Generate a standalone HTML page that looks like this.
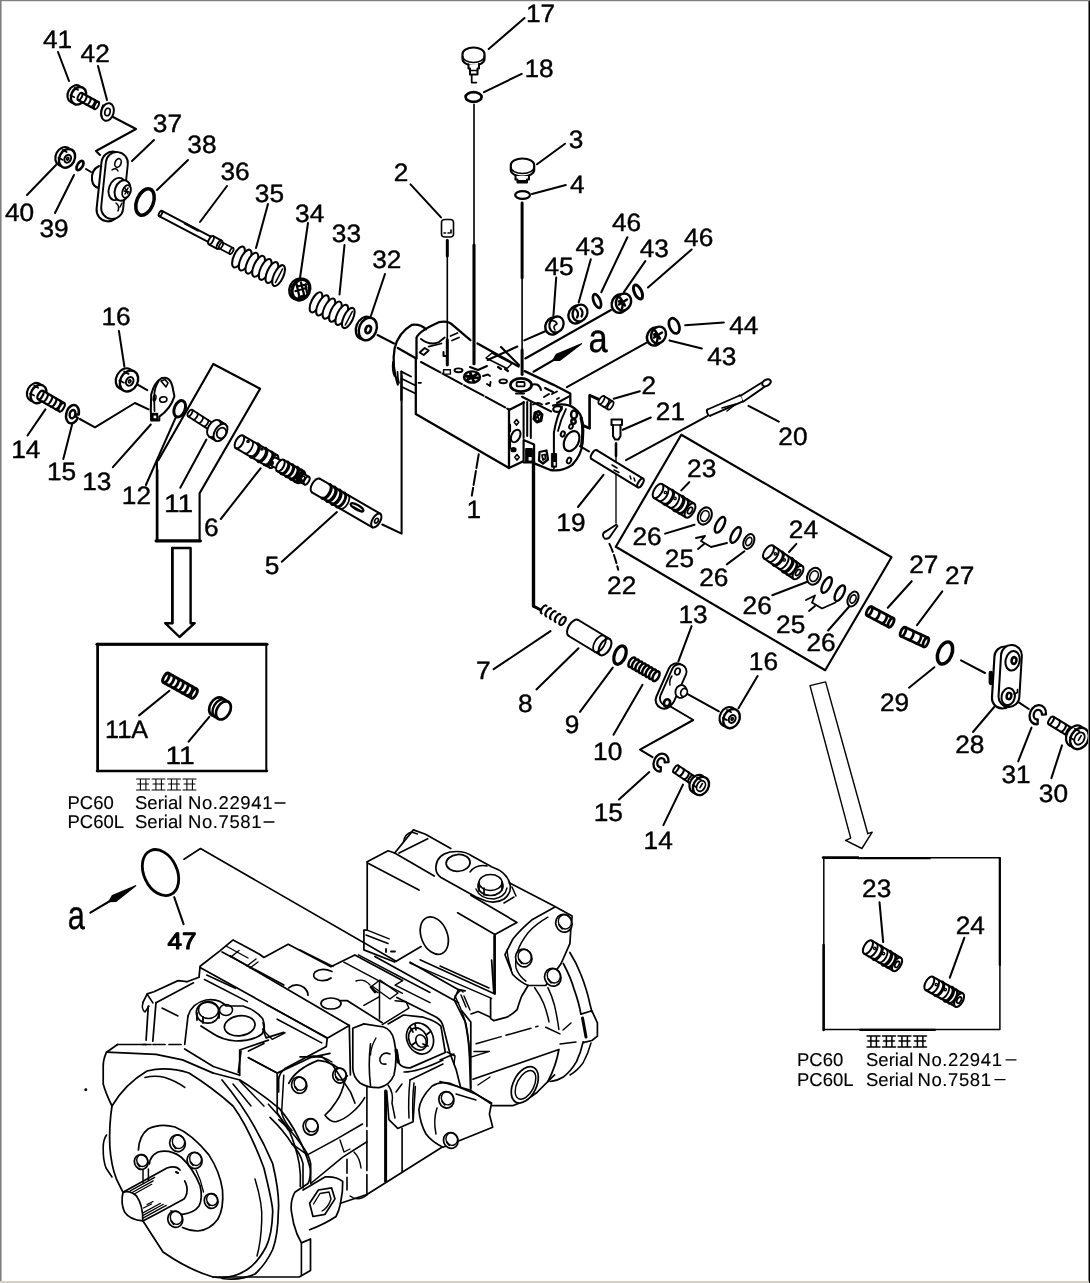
<!DOCTYPE html>
<html><head><meta charset="utf-8"><title>Parts diagram</title>
<style>
html,body{margin:0;padding:0;background:#fff;}
body{width:1090px;height:1283px;overflow:hidden;position:relative;font-family:"Liberation Sans",sans-serif;}
svg{position:absolute;left:0;top:0;display:block;filter:grayscale(1);}
svg text{font-family:"Liberation Sans",sans-serif;fill:#000;stroke:#000;stroke-width:0.4px;text-rendering:geometricPrecision;}
.bd{position:absolute;}
</style></head><body>
<svg width="1090" height="1283" viewBox="0 0 1090 1283" fill="none" stroke="#000" stroke-linecap="round" stroke-linejoin="round">
<rect x="0" y="0" width="1090" height="1283" fill="#fff" stroke="none"/>
<text x="42.9" y="47.5" font-size="25" textLength="29.2" lengthAdjust="spacingAndGlyphs">41</text>
<path d="M62.7 46.6L69.9 46.6" stroke-width="1.62" />
<text x="80.6" y="62.0" font-size="25" textLength="29.2" lengthAdjust="spacingAndGlyphs">42</text>
<text x="152.8" y="132.0" font-size="25" textLength="29.2" lengthAdjust="spacingAndGlyphs">37</text>
<text x="187.3" y="153.0" font-size="25" textLength="29.2" lengthAdjust="spacingAndGlyphs">38</text>
<text x="220.4" y="180.0" font-size="25" textLength="29.2" lengthAdjust="spacingAndGlyphs">36</text>
<text x="254.8" y="202.3" font-size="25" textLength="29.2" lengthAdjust="spacingAndGlyphs">35</text>
<text x="4.9" y="220.7" font-size="25" textLength="29.2" lengthAdjust="spacingAndGlyphs">40</text>
<text x="39.5" y="237.3" font-size="25" textLength="29.2" lengthAdjust="spacingAndGlyphs">39</text>
<text x="295.1" y="221.6" font-size="25" textLength="29.2" lengthAdjust="spacingAndGlyphs">34</text>
<text x="331.8" y="242.2" font-size="25" textLength="29.2" lengthAdjust="spacingAndGlyphs">33</text>
<text x="372.2" y="267.8" font-size="25" textLength="29.2" lengthAdjust="spacingAndGlyphs">32</text>
<text x="393.8" y="180.5" font-size="25" textLength="14.6" lengthAdjust="spacingAndGlyphs">2</text>
<text x="526.0" y="22.0" font-size="25" textLength="29.2" lengthAdjust="spacingAndGlyphs">17</text>
<path d="M531.2 21.1L538.4 21.1" stroke-width="1.62" />
<text x="524.4" y="77.0" font-size="25" textLength="29.2" lengthAdjust="spacingAndGlyphs">18</text>
<path d="M529.6 76.1L536.8 76.1" stroke-width="1.62" />
<text x="568.8" y="148.0" font-size="25" textLength="14.6" lengthAdjust="spacingAndGlyphs">3</text>
<text x="570.1" y="193.0" font-size="25" textLength="14.6" lengthAdjust="spacingAndGlyphs">4</text>
<text x="612.0" y="231.0" font-size="25" textLength="29.2" lengthAdjust="spacingAndGlyphs">46</text>
<text x="575.4" y="254.5" font-size="25" textLength="29.2" lengthAdjust="spacingAndGlyphs">43</text>
<text x="544.4" y="275.2" font-size="25" textLength="29.2" lengthAdjust="spacingAndGlyphs">45</text>
<text x="639.7" y="257.3" font-size="25" textLength="29.2" lengthAdjust="spacingAndGlyphs">43</text>
<text x="684.1" y="246.2" font-size="25" textLength="29.2" lengthAdjust="spacingAndGlyphs">46</text>
<text x="729.2" y="333.5" font-size="25" textLength="29.2" lengthAdjust="spacingAndGlyphs">44</text>
<text x="707.2" y="365.2" font-size="25" textLength="29.2" lengthAdjust="spacingAndGlyphs">43</text>
<text x="641.4" y="394.0" font-size="25" textLength="14.6" lengthAdjust="spacingAndGlyphs">2</text>
<text x="655.8" y="420.4" font-size="25" textLength="29.2" lengthAdjust="spacingAndGlyphs">21</text>
<path d="M675.6 419.5L682.8 419.5" stroke-width="1.62" />
<text x="778.3" y="444.5" font-size="25" textLength="29.2" lengthAdjust="spacingAndGlyphs">20</text>
<text x="687.1" y="477.2" font-size="25" textLength="29.2" lengthAdjust="spacingAndGlyphs">23</text>
<text x="788.8" y="538.0" font-size="25" textLength="29.2" lengthAdjust="spacingAndGlyphs">24</text>
<text x="632.5" y="545.3" font-size="25" textLength="29.2" lengthAdjust="spacingAndGlyphs">26</text>
<text x="664.8" y="567.4" font-size="25" textLength="29.2" lengthAdjust="spacingAndGlyphs">25</text>
<text x="699.2" y="585.6" font-size="25" textLength="29.2" lengthAdjust="spacingAndGlyphs">26</text>
<text x="742.6" y="613.7" font-size="25" textLength="29.2" lengthAdjust="spacingAndGlyphs">26</text>
<text x="776.1" y="632.5" font-size="25" textLength="29.2" lengthAdjust="spacingAndGlyphs">25</text>
<text x="806.5" y="650.7" font-size="25" textLength="29.2" lengthAdjust="spacingAndGlyphs">26</text>
<text x="607.1" y="594.0" font-size="25" textLength="29.2" lengthAdjust="spacingAndGlyphs">22</text>
<text x="556.3" y="530.8" font-size="25" textLength="29.2" lengthAdjust="spacingAndGlyphs">19</text>
<path d="M561.5 529.9L568.7 529.9" stroke-width="1.62" />
<text x="466.4" y="517.6" font-size="25" textLength="14.6" lengthAdjust="spacingAndGlyphs">1</text>
<path d="M471.6 516.7L478.8 516.7" stroke-width="1.62" />
<text x="678.4" y="623.0" font-size="25" textLength="29.2" lengthAdjust="spacingAndGlyphs">13</text>
<path d="M683.6 622.1L690.8 622.1" stroke-width="1.62" />
<text x="748.8" y="670.0" font-size="25" textLength="29.2" lengthAdjust="spacingAndGlyphs">16</text>
<path d="M754.0 669.1L761.2 669.1" stroke-width="1.62" />
<text x="476.0" y="678.5" font-size="25" textLength="14.6" lengthAdjust="spacingAndGlyphs">7</text>
<text x="518.1" y="711.9" font-size="25" textLength="14.6" lengthAdjust="spacingAndGlyphs">8</text>
<text x="564.8" y="733.1" font-size="25" textLength="14.6" lengthAdjust="spacingAndGlyphs">9</text>
<text x="593.1" y="759.6" font-size="25" textLength="29.2" lengthAdjust="spacingAndGlyphs">10</text>
<path d="M598.3 758.7L605.5 758.7" stroke-width="1.62" />
<text x="593.7" y="820.5" font-size="25" textLength="29.2" lengthAdjust="spacingAndGlyphs">15</text>
<path d="M598.9 819.6L606.1 819.6" stroke-width="1.62" />
<text x="643.6" y="848.5" font-size="25" textLength="29.2" lengthAdjust="spacingAndGlyphs">14</text>
<path d="M648.8 847.6L656.0 847.6" stroke-width="1.62" />
<text x="909.2" y="572.5" font-size="25" textLength="29.2" lengthAdjust="spacingAndGlyphs">27</text>
<text x="945.1" y="583.9" font-size="25" textLength="29.2" lengthAdjust="spacingAndGlyphs">27</text>
<text x="879.9" y="710.5" font-size="25" textLength="29.2" lengthAdjust="spacingAndGlyphs">29</text>
<text x="955.2" y="752.8" font-size="25" textLength="29.2" lengthAdjust="spacingAndGlyphs">28</text>
<text x="1001.5" y="782.6" font-size="25" textLength="29.2" lengthAdjust="spacingAndGlyphs">31</text>
<path d="M1021.3 781.7L1028.5 781.7" stroke-width="1.62" />
<text x="1038.8" y="802.4" font-size="25" textLength="29.2" lengthAdjust="spacingAndGlyphs">30</text>
<text x="101.4" y="325.4" font-size="25" textLength="29.2" lengthAdjust="spacingAndGlyphs">16</text>
<path d="M106.6 324.5L113.8 324.5" stroke-width="1.62" />
<text x="11.2" y="457.5" font-size="25" textLength="29.2" lengthAdjust="spacingAndGlyphs">14</text>
<path d="M16.4 456.6L23.6 456.6" stroke-width="1.62" />
<text x="46.9" y="480.4" font-size="25" textLength="29.2" lengthAdjust="spacingAndGlyphs">15</text>
<path d="M52.1 479.5L59.3 479.5" stroke-width="1.62" />
<text x="82.2" y="489.7" font-size="25" textLength="29.2" lengthAdjust="spacingAndGlyphs">13</text>
<path d="M87.4 488.8L94.6 488.8" stroke-width="1.62" />
<text x="121.8" y="503.5" font-size="25" textLength="29.2" lengthAdjust="spacingAndGlyphs">12</text>
<path d="M127.0 502.6L134.2 502.6" stroke-width="1.62" />
<text x="163.9" y="511.8" font-size="25" textLength="29.2" lengthAdjust="spacingAndGlyphs">11</text>
<path d="M169.1 510.9L176.3 510.9" stroke-width="1.62" />
<path d="M183.7 510.9L190.9 510.9" stroke-width="1.62" />
<text x="204.1" y="535.5" font-size="25" textLength="14.6" lengthAdjust="spacingAndGlyphs">6</text>
<text x="264.8" y="573.5" font-size="25" textLength="14.6" lengthAdjust="spacingAndGlyphs">5</text>
<text x="165.4" y="763.6" font-size="25" textLength="29.2" lengthAdjust="spacingAndGlyphs">11</text>
<path d="M170.6 762.7L177.8 762.7" stroke-width="1.62" />
<path d="M185.2 762.7L192.4 762.7" stroke-width="1.62" />
<text x="862.1" y="897.2" font-size="25" textLength="29.2" lengthAdjust="spacingAndGlyphs">23</text>
<text x="955.7" y="933.6" font-size="25" textLength="29.2" lengthAdjust="spacingAndGlyphs">24</text>
<text x="105.0" y="737.5" font-size="25" textLength="43" lengthAdjust="spacingAndGlyphs">11A</text>
<path d="M108.5 736.6L117.0 736.6" stroke-width="1.69" />
<path d="M121.5 736.6L130.0 736.6" stroke-width="1.69" />
<text transform="translate(588.5 351.6) scale(0.86 1)" font-size="40">a</text>
<text transform="translate(67.8 929) scale(0.76 1)" font-size="40.5">a</text>
<text x="167.6" y="948.5" font-size="23.5" style="stroke-width:1.1px" textLength="29" lengthAdjust="spacingAndGlyphs">47</text>
<text x="67.5" y="809.0" font-size="18.5" style="stroke-width:0.12px">PC60</text>
<text x="135.0" y="809.0" font-size="18.5" style="stroke-width:0.12px">Serial</text>
<text x="188.0" y="809.0" font-size="18.5" letter-spacing="0.6" style="stroke-width:0.12px">No.22941</text>
<path d="M275.0 803.0L285.0 803.0" stroke-width="1.28" />
<text x="67.5" y="828.0" font-size="18.5" style="stroke-width:0.12px">PC60L</text>
<text x="135.0" y="828.0" font-size="18.5" style="stroke-width:0.12px">Serial</text>
<text x="188.0" y="828.0" font-size="18.5" letter-spacing="0.6" style="stroke-width:0.12px">No.7581</text>
<path d="M264.0 822.0L274.0 822.0" stroke-width="1.28" />
<text x="797.0" y="1065.8" font-size="18.5" style="stroke-width:0.12px">PC60</text>
<text x="866.0" y="1065.8" font-size="18.5" style="stroke-width:0.12px">Serial</text>
<text x="917.5" y="1065.8" font-size="18.5" letter-spacing="0.6" style="stroke-width:0.12px">No.22941</text>
<path d="M1006.0 1059.8L1016.0 1059.8" stroke-width="1.28" />
<text x="797.0" y="1085.7" font-size="18.5" style="stroke-width:0.12px">PC60L</text>
<text x="866.0" y="1085.7" font-size="18.5" style="stroke-width:0.12px">Serial</text>
<text x="917.5" y="1085.7" font-size="18.5" letter-spacing="0.6" style="stroke-width:0.12px">No.7581</text>
<path d="M995.0 1079.7L1005.0 1079.7" stroke-width="1.28" />
<path d="M136.5 779.0h13M137.5 784.0h11M136.5 790.0h13M140.4 779.0v11M145.9 780.0v10" stroke-width="1.08" fill="none" />
<path d="M152.0 779.0h13M153.0 784.0h11M152.0 790.0h13M155.9 779.0v11M161.4 780.0v10" stroke-width="1.08" fill="none" />
<path d="M167.5 779.0h13M168.5 784.0h11M167.5 790.0h13M171.4 779.0v11M176.9 780.0v10" stroke-width="1.08" fill="none" />
<path d="M183.0 779.0h13M184.0 784.0h11M183.0 790.0h13M186.9 779.0v11M192.4 780.0v10" stroke-width="1.08" fill="none" />
<path d="M867.0 1036.0h13M868.0 1041.0h11M867.0 1047.0h13M870.9 1036.0v11M876.4 1037.0v10" stroke-width="1.49" fill="none" />
<path d="M882.5 1036.0h13M883.5 1041.0h11M882.5 1047.0h13M886.4 1036.0v11M891.9 1037.0v10" stroke-width="1.49" fill="none" />
<path d="M898.0 1036.0h13M899.0 1041.0h11M898.0 1047.0h13M901.9 1036.0v11M907.4 1037.0v10" stroke-width="1.49" fill="none" />
<path d="M913.5 1036.0h13M914.5 1041.0h11M913.5 1047.0h13M917.4 1036.0v11M922.9 1037.0v10" stroke-width="1.49" fill="none" />
<path d="M58.0 52.0L69.0 81.0" stroke-width="2.03" />
<path d="M98.0 66.0L107.0 100.0" stroke-width="2.03" />
<path d="M154.0 140.0L132.0 161.0" stroke-width="2.03" />
<path d="M27.0 195.0L56.0 165.0" stroke-width="2.03" />
<path d="M55.0 213.0L74.0 175.0" stroke-width="2.03" />
<path d="M86.0 169.0L91.0 172.0" stroke-width="2.03" />
<path d="M188.0 160.0L157.0 190.0" stroke-width="2.03" />
<path d="M227.0 186.0L200.0 222.0" stroke-width="2.03" />
<path d="M268.0 204.0L256.0 248.0" stroke-width="2.03" />
<path d="M308.0 223.0L300.0 278.0" stroke-width="2.03" />
<path d="M344.5 245.0L339.5 294.5" stroke-width="2.03" />
<path d="M385.0 274.0L370.7 316.5" stroke-width="2.03" />
<path d="M377.5 335.0L394.0 343.5" stroke-width="2.03" />
<path d="M410.5 184.4L441.0 217.4" stroke-width="2.03" />
<path d="M524.5 18.0L488.7 49.0" stroke-width="2.03" />
<path d="M521.7 73.8L484.0 92.2" stroke-width="2.03" />
<path d="M565.0 143.7L537.0 164.3" stroke-width="2.03" />
<path d="M565.8 185.0L532.0 194.0" stroke-width="2.03" />
<path d="M590.8 259.2L578.7 302.4" stroke-width="2.03" />
<path d="M627.4 237.2L601.3 292.2" stroke-width="2.03" />
<path d="M645.3 261.1L623.9 292.2" stroke-width="2.03" />
<path d="M691.6 249.5L648.0 287.5" stroke-width="2.03" />
<path d="M685.2 325.2L723.8 322.5" stroke-width="2.03" />
<path d="M669.5 340.4L701.8 348.6" stroke-width="2.03" />
<path d="M648.0 341.8L566.9 387.2" stroke-width="2.03" />
<path d="M613.7 398.7L639.8 391.3" stroke-width="2.03" />
<path d="M622.8 429.8L650.8 417.5" stroke-width="2.03" />
<path d="M626.0 460.1L707.3 416.1" stroke-width="2.03" />
<path d="M748.5 405.9L778.8 421.6" stroke-width="2.03" />
<path d="M665.1 533.6L694.5 524.8" stroke-width="2.03" />
<path d="M726.8 564.4L744.4 551.2" stroke-width="2.03" />
<path d="M796.4 543.9L789.0 552.0" stroke-width="2.03" />
<path d="M689.2 482.2L681.3 490.4" stroke-width="2.03" />
<path d="M772.3 595.2L806.7 582.0" stroke-width="2.03" />
<path d="M828.1 630.5L850.1 605.5" stroke-width="2.03" />
<path d="M578.0 507.0L603.5 474.9" stroke-width="2.03" />
<path d="M691.6 626.1L678.4 661.3" stroke-width="2.03" />
<path d="M757.6 676.0L738.5 708.3" stroke-width="2.03" />
<path d="M911.7 581.2L887.8 607.8" stroke-width="2.03" />
<path d="M942.3 591.3L917.0 625.1" stroke-width="2.03" />
<path d="M909.0 687.7L934.4 667.2" stroke-width="2.03" />
<path d="M961.0 660.3L985.0 673.0" stroke-width="2.03" />
<path d="M973.0 732.0L994.2 707.0" stroke-width="2.03" />
<path d="M1012.8 698.3L1028.8 709.0" stroke-width="2.03" />
<path d="M1031.5 727.6L1018.2 761.4" stroke-width="2.03" />
<path d="M1062.0 745.4L1051.4 778.1" stroke-width="2.03" />
<path d="M493.7 669.2L550.5 631.1" stroke-width="2.03" />
<path d="M536.4 689.4L578.5 648.3" stroke-width="2.03" />
<path d="M580.0 711.9L612.8 667.6" stroke-width="2.03" />
<path d="M613.5 734.7L642.5 684.8" stroke-width="2.03" />
<path d="M619.0 799.6L649.3 772.1" stroke-width="2.03" />
<path d="M663.4 825.1L683.0 784.6" stroke-width="2.03" />
<path d="M687.7 694.1L718.9 711.3" stroke-width="2.03" />
<path d="M118.9 330.9L124.4 366.7" stroke-width="2.03" />
<path d="M137.6 384.6L147.3 390.1" stroke-width="2.03" />
<path d="M27.5 435.5L45.4 409.4" stroke-width="2.03" />
<path d="M63.3 458.9L72.1 424.5" stroke-width="2.03" />
<path d="M112.9 467.2L150.8 424.5" stroke-width="2.03" />
<path d="M145.9 485.0L176.2 416.3" stroke-width="2.03" />
<path d="M180.3 487.8L206.4 439.6" stroke-width="2.03" />
<path d="M220.8 519.0L260.6 468.3" stroke-width="2.03" />
<path d="M281.8 561.7L336.9 512.1" stroke-width="2.03" />
<path d="M139.1 715.4L169.4 690.7" stroke-width="2.03" />
<path d="M188.6 741.6L209.3 716.8" stroke-width="2.03" />
<path d="M879.5 902.3L883.2 942.1" stroke-width="2.03" />
<path d="M964.3 937.8L949.8 977.7" stroke-width="2.03" />
<path d="M174.2 897.1L183.6 924.2" stroke-width="2.03" />
<path d="M113.0 117.0L136.0 129.0L96.0 151.0L100.0 155.0" stroke-width="2.03" fill="none" />
<path d="M79.8 419.0L95.0 427.3L134.9 403.0L148.6 409.4" stroke-width="2.03" fill="none" />
<path d="M669.6 706.0L693.3 720.0L640.0 749.6L652.5 757.1" stroke-width="2.03" fill="none" />
<path d="M598.5 398.7L589.7 394.9L589.7 428.5L582.0 425.7L582.0 420.0" stroke-width="2.03" fill="none" />
<path d="M382.3 524.5L401.6 533.6L401.6 372.0" stroke-width="2.03" fill="none" />
<path d="M184.0 859.2L200.5 848.5L396.1 961.3" stroke-width="1.62" fill="none" />
<path d="M696.0 538.0L705.0 536.0L701.0 541.0L711.0 547.0L727.0 543.0" stroke-width="1.89" fill="none" />
<path d="M698.0 549.0L704.0 544.0" stroke-width="1.89" fill="none" />
<path d="M806.0 600.0L815.0 595.5L812.0 602.5L822.0 608.5L835.5 602.5" stroke-width="1.89" fill="none" />
<path d="M809.0 611.0L815.0 606.0" stroke-width="1.89" fill="none" />
<path d="M478.7 454.3L471.8 495.6" stroke-width="2.03" fill="none" stroke-dasharray="14 3"/>
<path d="M609.4 543.9Q614 553 618.2 569.7" stroke-width="2.03" fill="none" stroke-dasharray="9 3"/>
<path d="M616.0 443.0L616.0 523.0" stroke-width="1.35" />
<path d="M616.0 443.5L616.0 456.0" stroke-width="2.56" />
<path d="M533.3 462.0L533.3 606.2L540.0 609.5" stroke-width="2.97" fill="none" />
<path d="M533.5 371.7L561.6 355.4" stroke-width="2.16" />
<path d="M581.5 343.8L559.9 360.3L553.0 360.4L556.4 354.4Z" stroke-width="1.35" fill="#000" />
<path d="M90.4 912.6L117.5 896.5" stroke-width="2.16" />
<path d="M135.6 885.8L115.8 901.4L108.9 901.6L112.4 895.7Z" stroke-width="1.35" fill="#000" />
<path d="M525.3 358.5L611.0 310.0" stroke-width="2.03" />
<path d="M524.3 340.4L547.5 330.3" stroke-width="2.03" />
<path d="M681.3 434.8L891.5 557.2L825.2 670.2L615.8 546.8Z" stroke-width="2.16" fill="none" />
<path d="M158.3 460.3L213.3 364.0L260.1 388.7L199.6 493.3L199.6 540.5L156.9 540.5L156.9 460.3" stroke-width="2.16" fill="none" />
<path d="M156.0 541.0L200.5 541.0" stroke-width="2.97" />
<path d="M157.2 470.0L157.2 541.0" stroke-width="2.56" />
<path d="M172.3 548.0L190.6 548.0L190.6 623.2L194.7 623.2L179.5 637.0L165.2 623.2L172.3 623.2Z" stroke-width="2.43" fill="none" />
<path d="M172.3 548.0L172.3 623.0" stroke-width="2.56" />
<path d="M97.8 644.5L266.3 644.5L266.3 771.0L97.8 771.0Z" stroke-width="2.03" fill="none" />
<path d="M97.0 644.2L267.0 644.2" stroke-width="3.10" />
<path d="M97.6 644.0L97.6 771.0" stroke-width="2.56" />
<path d="M97.0 771.0L267.0 771.0" stroke-width="2.43" />
<path d="M810.0 685.6L825.6 681.9L867.8 833.7L872.2 832.2L861.9 848.5L845.6 840.4L850.7 838.1Z" stroke-width="1.42" fill="none" />
<path d="M823.8 857.8L999.9 857.8L999.9 1029.6L823.8 1029.6Z" stroke-width="1.49" fill="none" />
<path d="M823.6 945.0L823.6 1030.0" stroke-width="2.56" />
<path d="M823.0 857.6L858.0 857.6" stroke-width="2.56" />
<path d="M858.0 858.2L930.0 858.2" stroke-width="1.89" />
<path d="M999.8 858.0L999.8 965.0" stroke-width="2.16" />
<path d="M860.0 1029.8L935.0 1029.8" stroke-width="2.29" />
<ellipse cx="75.1" cy="94.0" rx="7.2" ry="9.2" transform="rotate(28 75.1 94.0)" stroke-width="2.16" fill="#fff"/>
<ellipse cx="78.5" cy="95.8" rx="7.2" ry="9.2" transform="rotate(28 78.5 95.8)" stroke-width="2.43" fill="#fff"/>
<path d="M74.4 87.9L78.1 89.9" stroke-width="1.76" />
<path d="M70.5 95.2L74.3 97.2" stroke-width="1.76" />
<path d="M78.1 100.0L94.6 109.0L98.4 102.0L81.9 93.0Z" fill="#fff" stroke="none"/>
<ellipse cx="80.0" cy="96.5" rx="1.8" ry="4.0" transform="rotate(28.61045966596522 80.0 96.5)" stroke-width="2.03" fill="#fff"/>
<path d="M78.1 100.0L94.6 109.0M98.4 102.0L81.9 93.0" stroke-width="2.03"/>
<ellipse cx="96.5" cy="105.5" rx="1.8" ry="4.0" transform="rotate(28.61045966596522 96.5 105.5)" stroke-width="2.03" fill="#fff"/>
<path d="M0 -4.0A1.8 4.0 0 0 1 0 4.0" transform="translate(84.1 98.8) rotate(28.6)" stroke-width="2.03"/>
<path d="M0 -4.0A1.8 4.0 0 0 1 0 4.0" transform="translate(88.2 101.0) rotate(28.6)" stroke-width="2.03"/>
<path d="M0 -4.0A1.8 4.0 0 0 1 0 4.0" transform="translate(92.4 103.2) rotate(28.6)" stroke-width="2.03"/>
<ellipse cx="107.5" cy="112.0" rx="6.2" ry="9.0" transform="rotate(15 107.5 112.0)" stroke-width="2.03" fill="#fff"/>
<ellipse cx="107.5" cy="112.0" rx="2.6" ry="3.8" transform="rotate(15 107.5 112.0)" stroke-width="1.62" fill="none"/>
<path d="M103 105q-3 6 -1 13" stroke-width="1.62" fill="none" />
<ellipse cx="63.4" cy="156.4" rx="7.6" ry="9.8" transform="rotate(28 63.4 156.4)" stroke-width="2.16" fill="#fff"/>
<ellipse cx="67.0" cy="158.3" rx="7.6" ry="9.8" transform="rotate(28 67.0 158.3)" stroke-width="2.43" fill="#fff"/>
<path d="M62.6 149.9L66.6 152.0" stroke-width="1.76" />
<path d="M58.5 157.7L62.5 159.8" stroke-width="1.76" />
<ellipse cx="67.7" cy="158.7" rx="3.1" ry="4.1" transform="rotate(28 67.7 158.7)" stroke-width="2.03" fill="none"/>
<ellipse cx="67.7" cy="158.7" rx="1.0" ry="1.4" transform="rotate(28 67.7 158.7)" stroke-width="1.62" fill="none"/>
<ellipse cx="80.0" cy="165.5" rx="2.6" ry="5.2" transform="rotate(32 80.0 165.5)" stroke-width="2.70" fill="none"/>
<path d="M99 166q-8 4 -7 14q1 7 7 8" stroke-width="2.03" fill="#fff" />
<rect x="-11.5" y="-35.0" width="23.0" height="70.0" rx="11.5" ry="11.5" transform="translate(110.5 186.5) rotate(6)" stroke-width="2.03" fill="#fff"/>
<rect x="-11.0" y="-33.5" width="22.0" height="67.0" rx="11.0" ry="11.0" transform="translate(114.5 185.5) rotate(6)" stroke-width="1.89" fill="#fff"/>
<ellipse cx="118.0" cy="163.0" rx="3.0" ry="4.5" transform="rotate(20 118.0 163.0)" stroke-width="1.62" fill="none"/>
<path d="M112 170q4 -3 6 1" stroke-width="1.49" fill="none" />
<ellipse cx="117.0" cy="189.0" rx="8.0" ry="11.5" transform="rotate(20 117.0 189.0)" stroke-width="1.89" fill="#fff"/>
<ellipse cx="122.5" cy="190.5" rx="7.5" ry="10.5" transform="rotate(20 122.5 190.5)" stroke-width="2.03" fill="#fff"/>
<ellipse cx="126.5" cy="191.5" rx="4.0" ry="6.5" transform="rotate(20 126.5 191.5)" stroke-width="1.76" fill="#fff"/>
<path d="M125 188l3 6M128 188l-3 6M124 191l5 1" stroke-width="1.49" fill="none" />
<path d="M116 203q4 3 2 8M122 203l-2 4" stroke-width="1.49" fill="none" />
<ellipse cx="145.0" cy="202.0" rx="8.3" ry="13.8" transform="rotate(22 145.0 202.0)" stroke-width="3.51" fill="none"/>
<path d="M159.1 216.2L207.6 241.7L210.4 236.3L161.9 210.8Z" fill="#fff" stroke="none"/>
<ellipse cx="160.5" cy="213.5" rx="1.4" ry="3.0" transform="rotate(27.73419050498541 160.5 213.5)" stroke-width="1.89" fill="#fff"/>
<path d="M159.1 216.2L207.6 241.7M210.4 236.3L161.9 210.8" stroke-width="1.89"/>
<path d="M0 -3.0A1.4 3.0 0 0 1 0 3.0" transform="translate(209.0 239.0) rotate(27.7)" stroke-width="1.89" fill="#fff"/>
<path d="M185.0 223.5L198.0 230.5" stroke-width="2.43" />
<path d="M208.8 244.3L217.3 248.8L221.7 240.6L213.2 236.1Z" fill="#fff" stroke="none"/>
<ellipse cx="211.0" cy="240.2" rx="2.1" ry="4.6" transform="rotate(27.89727103094763 211.0 240.2)" stroke-width="1.89" fill="#fff"/>
<path d="M208.8 244.3L217.3 248.8M221.7 240.6L213.2 236.1" stroke-width="1.89"/>
<ellipse cx="219.5" cy="244.7" rx="2.1" ry="4.6" transform="rotate(27.89727103094763 219.5 244.7)" stroke-width="1.89" fill="#fff"/>
<path d="M219.4 248.5L229.9 254.0L233.1 248.0L222.6 242.5Z" fill="#fff" stroke="none"/>
<ellipse cx="221.0" cy="245.5" rx="1.5" ry="3.4" transform="rotate(27.64597536373868 221.0 245.5)" stroke-width="1.76" fill="#fff"/>
<path d="M219.4 248.5L229.9 254.0M233.1 248.0L222.6 242.5" stroke-width="1.76"/>
<ellipse cx="231.5" cy="251.0" rx="1.5" ry="3.4" transform="rotate(27.64597536373868 231.5 251.0)" stroke-width="1.76" fill="#fff"/>
<ellipse cx="238.5" cy="257.0" rx="4.7" ry="11.3" transform="rotate(24.88377519203591 238.5 257.0)" stroke-width="2.03" fill="#fff"/>
<ellipse cx="245.2" cy="260.1" rx="4.7" ry="11.3" transform="rotate(24.88377519203591 245.2 260.1)" stroke-width="2.03" fill="#fff"/>
<ellipse cx="251.9" cy="263.2" rx="4.7" ry="11.3" transform="rotate(24.88377519203591 251.9 263.2)" stroke-width="2.03" fill="#fff"/>
<ellipse cx="258.6" cy="266.3" rx="4.7" ry="11.3" transform="rotate(24.88377519203591 258.6 266.3)" stroke-width="2.03" fill="#fff"/>
<ellipse cx="265.2" cy="269.4" rx="4.7" ry="11.3" transform="rotate(24.88377519203591 265.2 269.4)" stroke-width="2.03" fill="#fff"/>
<ellipse cx="271.9" cy="272.5" rx="4.7" ry="11.3" transform="rotate(24.88377519203591 271.9 272.5)" stroke-width="2.03" fill="#fff"/>
<ellipse cx="278.6" cy="275.6" rx="4.7" ry="11.3" transform="rotate(24.88377519203591 278.6 275.6)" stroke-width="2.03" fill="#fff"/>
<path d="M275.5 282.5l7 -13.5" stroke-width="1.62" fill="none" />
<ellipse cx="298.3" cy="289.0" rx="8.8" ry="10.8" transform="rotate(25 298.3 289.0)" stroke-width="2.16" fill="#fff"/>
<ellipse cx="300.8" cy="289.6" rx="8.6" ry="10.6" transform="rotate(25 300.8 289.6)" stroke-width="3.51" fill="#fff"/>
<path d="M296.5 284l2.5 11M301 282.5l3 12M305.5 284.5l1.5 8M295.5 291l11 -3M297 286.5l9 -2" stroke-width="2.29" fill="none" />
<path d="M299 297.5l5 -1.5" stroke-width="2.97" fill="none" />
<ellipse cx="316.0" cy="302.3" rx="4.6" ry="11.0" transform="rotate(25.92290868019225 316.0 302.3)" stroke-width="2.03" fill="#fff"/>
<ellipse cx="322.5" cy="305.4" rx="4.6" ry="11.0" transform="rotate(25.92290868019225 322.5 305.4)" stroke-width="2.03" fill="#fff"/>
<ellipse cx="328.9" cy="308.6" rx="4.6" ry="11.0" transform="rotate(25.92290868019225 328.9 308.6)" stroke-width="2.03" fill="#fff"/>
<ellipse cx="335.4" cy="311.7" rx="4.6" ry="11.0" transform="rotate(25.92290868019225 335.4 311.7)" stroke-width="2.03" fill="#fff"/>
<ellipse cx="341.8" cy="314.9" rx="4.6" ry="11.0" transform="rotate(25.92290868019225 341.8 314.9)" stroke-width="2.03" fill="#fff"/>
<ellipse cx="348.3" cy="318.0" rx="4.6" ry="11.0" transform="rotate(25.92290868019225 348.3 318.0)" stroke-width="2.03" fill="#fff"/>
<path d="M345.3 325l7 -13.5" stroke-width="1.62" fill="none" />
<ellipse cx="364.8" cy="328.0" rx="8.6" ry="11.6" transform="rotate(22 364.8 328.0)" stroke-width="2.29" fill="#fff"/>
<ellipse cx="367.8" cy="329.0" rx="8.6" ry="11.6" transform="rotate(22 367.8 329.0)" stroke-width="2.43" fill="#fff"/>
<ellipse cx="368.2" cy="329.4" rx="2.6" ry="3.8" transform="rotate(22 368.2 329.4)" stroke-width="2.70" fill="none"/>
<rect x="441.5" y="219.5" width="12" height="17.5" rx="3.5" ry="3" stroke-width="1.6" fill="#fff"/>
<path d="M444 233h1.5M448 233h1.5M451 230v3" stroke-width="1.62" fill="none" />
<path d="M462.5 54a11 6.5 0 0 1 22 0v5a11 6.5 0 0 1 -22 0z" stroke-width="2.16" fill="#fff" />
<path d="M462.5 56a11 6.5 0 0 0 22 0" stroke-width="1.62" fill="none" />
<path d="M468.5 64.5v4h1.5v6h7.5v-6h1.5v-4.5" stroke-width="2.03" fill="#fff" />
<path d="M470 70.5h7.5" stroke-width="1.49" fill="none" />
<path d="M471.7 75v7.6h4.6" stroke-width="1.76" fill="none" />
<ellipse cx="473.6" cy="97.0" rx="8.0" ry="4.8" transform="rotate(0 473.6 97.0)" stroke-width="2.70" fill="none"/>
<path d="M510.8 165a11.7 6.5 0 0 1 23.4 0v5a11.7 6.5 0 0 1 -23.4 0z" stroke-width="2.16" fill="#fff" />
<path d="M510.8 167a11.7 6.5 0 0 0 23.4 0" stroke-width="1.62" fill="none" />
<path d="M515.5 176v3.5h2v3h9.5v-3h2v-3.5" stroke-width="2.03" fill="#fff" />
<path d="M518 181h9" stroke-width="1.76" fill="none" />
<ellipse cx="522.6" cy="195.0" rx="7.4" ry="3.9" transform="rotate(0 522.6 195.0)" stroke-width="2.29" fill="none"/>
<path d="M556.2 277.5L553.4 316.0" stroke-width="2.03" />
<ellipse cx="553.0" cy="326.0" rx="7.5" ry="8.8" transform="rotate(25 553.0 326.0)" stroke-width="2.43" fill="#fff"/>
<ellipse cx="556.5" cy="324.5" rx="6.9" ry="8.2" transform="rotate(25 556.5 324.5)" stroke-width="2.29" fill="#fff"/>
<path d="M551 321q5 -1 6 3q-5 2 -2 6" stroke-width="1.62" fill="none" />
<ellipse cx="576.5" cy="314.5" rx="7.8" ry="9.2" transform="rotate(25 576.5 314.5)" stroke-width="2.43" fill="#fff"/>
<ellipse cx="580.0" cy="313.0" rx="7.2" ry="8.6" transform="rotate(25 580.0 313.0)" stroke-width="2.29" fill="#fff"/>
<path d="M576.0 309.5q3.5 3.5 1 8M580.5 308.5q3.5 3.5 1 8" stroke-width="2.16" fill="none" />
<ellipse cx="597.0" cy="301.0" rx="3.3" ry="7.2" transform="rotate(-22 597.0 301.0)" stroke-width="2.70" fill="none"/>
<ellipse cx="620.0" cy="303.5" rx="8.1" ry="9.5" transform="rotate(25 620.0 303.5)" stroke-width="2.57" fill="#fff"/>
<ellipse cx="623.5" cy="302.0" rx="7.4" ry="8.8" transform="rotate(25 623.5 302.0)" stroke-width="2.43" fill="#fff"/>
<path d="M620.0 297.5l5 8M627.0 299.5l-8 5M623.0 303.5l-1 5M619.0 301.5l3 -1" stroke-width="2.43" fill="none" />
<ellipse cx="638.0" cy="292.0" rx="3.6" ry="7.6" transform="rotate(-25 638.0 292.0)" stroke-width="2.97" fill="none"/>
<ellipse cx="655.0" cy="336.5" rx="7.8" ry="9.2" transform="rotate(25 655.0 336.5)" stroke-width="2.57" fill="#fff"/>
<ellipse cx="658.5" cy="335.0" rx="7.2" ry="8.6" transform="rotate(25 658.5 335.0)" stroke-width="2.43" fill="#fff"/>
<path d="M655.0 330.5l5 8M662.0 332.5l-8 5M658.0 336.5l-1 5M654.0 334.5l3 -1" stroke-width="2.43" fill="none" />
<ellipse cx="674.2" cy="325.8" rx="4.8" ry="8.0" transform="rotate(-22 674.2 325.8)" stroke-width="2.70" fill="none"/>
<path d="M599.1 403.9L608.1 409.4L612.9 401.6L603.9 396.1Z" fill="#fff" stroke="none"/>
<ellipse cx="601.5" cy="400.0" rx="2.1" ry="4.6" transform="rotate(31.429565614838516 601.5 400.0)" stroke-width="1.76" fill="#fff"/>
<path d="M599.1 403.9L608.1 409.4M612.9 401.6L603.9 396.1" stroke-width="1.76"/>
<ellipse cx="610.5" cy="405.5" rx="2.1" ry="4.6" transform="rotate(31.429565614838516 610.5 405.5)" stroke-width="1.76" fill="#fff"/>
<path d="M0 -4.6A2.1 4.6 0 0 1 0 4.6" transform="translate(606.0 402.8) rotate(31.4)" stroke-width="1.76"/>
<path d="M611.5 419.5h10.5v5.5h-1.5v11l-2 3.5h-3.5l-2 -3.5v-11h-1.5z" stroke-width="2.03" fill="#fff" />
<path d="M613 425h7.5" stroke-width="1.62" fill="none" />
<path d="M591.4 458.8L637.9 487.3L643.1 478.7L596.6 450.2Z" fill="#fff" stroke="none"/>
<path d="M0 -5.0A2.2 5.0 0 0 0 0 5.0" transform="translate(594.0 454.5) rotate(31.5)" stroke-width="2.03" fill="#fff"/>
<path d="M591.4 458.8L637.9 487.3M643.1 478.7L596.6 450.2" stroke-width="2.03"/>
<ellipse cx="640.5" cy="483.0" rx="2.2" ry="5.0" transform="rotate(31.504266719204193 640.5 483.0)" stroke-width="2.03" fill="#fff"/>
<path d="M612 465l5 3M614 470l5 2.5M630 476l1 3M634 478l1 3" stroke-width="1.49" fill="none" />
<path d="M710.4 415.7L742.4 401.7L739.6 395.5L707.6 409.5Z" fill="#fff" stroke="none"/>
<path d="M0 -3.4A1.7 3.4 0 0 0 0 3.4" transform="translate(709.0 412.6) rotate(-23.6)" stroke-width="1.89" fill="#fff"/>
<path d="M710.4 415.7L742.4 401.7M739.6 395.5L707.6 409.5" stroke-width="1.89"/>
<path d="M0 -3.4A1.7 3.4 0 0 1 0 3.4" transform="translate(741.0 398.6) rotate(-23.6)" stroke-width="1.89" fill="#fff"/>
<path d="M741 395.5L763.5 381.5L766.5 385.5L743.5 401.5" stroke-width="1.89" fill="#fff" />
<ellipse cx="766.5" cy="382.8" rx="4.6" ry="3.0" transform="rotate(-30 766.5 382.8)" stroke-width="2.03" fill="#fff"/>
<path d="M722 408l14 -4l-9 7" stroke-width="1.49" fill="none" />
<path d="M603.5 537q-2 -4 3 -6l10 -6.5M604.5 538.5q4 1 6 -2.5l7 -10" stroke-width="1.89" fill="none" />
<path d="M653.8 497.8L685.8 517.3L694.2 503.7L662.2 484.2Z" fill="#fff" stroke="none"/>
<ellipse cx="658.0" cy="491.0" rx="4.0" ry="8.0" transform="rotate(31.35708522400993 658.0 491.0)" stroke-width="2.03" fill="#fff"/>
<path d="M653.8 497.8L685.8 517.3M694.2 503.7L662.2 484.2" stroke-width="2.03"/>
<ellipse cx="690.0" cy="510.5" rx="4.0" ry="8.0" transform="rotate(31.35708522400993 690.0 510.5)" stroke-width="2.03" fill="#fff"/>
<path d="M0 -8.0A4.0 8.0 0 0 1 0 8.0" transform="translate(663.1 494.1) rotate(31.4)" stroke-width="1.89"/>
<path d="M0 -8.0A4.0 8.0 0 0 1 0 8.0" transform="translate(668.2 497.2) rotate(31.4)" stroke-width="3.10"/>
<path d="M0 -8.0A4.0 8.0 0 0 1 0 8.0" transform="translate(674.0 500.8) rotate(31.4)" stroke-width="1.89"/>
<path d="M0 -8.0A4.0 8.0 0 0 1 0 8.0" transform="translate(678.5 503.5) rotate(31.4)" stroke-width="3.51"/>
<path d="M0 -8.0A4.0 8.0 0 0 1 0 8.0" transform="translate(683.0 506.2) rotate(31.4)" stroke-width="2.70"/>
<ellipse cx="690.0" cy="510.5" rx="2.0" ry="3.6" transform="rotate(31.35708522400993 690.0 510.5)" stroke-width="1.76" fill="none"/>
<ellipse cx="665.4" cy="492.5" rx="1.2" ry="1.2" transform="rotate(0 665.4 492.5)" stroke-width="1.35" fill="none"/>
<ellipse cx="675.0" cy="498.4" rx="1.2" ry="1.2" transform="rotate(0 675.0 498.4)" stroke-width="1.35" fill="none"/>
<ellipse cx="704.8" cy="516.0" rx="6.5" ry="9.0" transform="rotate(25 704.8 516.0)" stroke-width="2.03" fill="#fff"/>
<ellipse cx="704.8" cy="516.0" rx="4.0" ry="5.6" transform="rotate(25 704.8 516.0)" stroke-width="1.62" fill="none"/>
<ellipse cx="720.0" cy="524.8" rx="3.8" ry="8.6" transform="rotate(28 720.0 524.8)" stroke-width="2.43" fill="none"/>
<ellipse cx="735.6" cy="535.0" rx="3.8" ry="8.6" transform="rotate(28 735.6 535.0)" stroke-width="2.43" fill="none"/>
<ellipse cx="748.8" cy="541.5" rx="5.0" ry="7.8" transform="rotate(25 748.8 541.5)" stroke-width="2.03" fill="#fff"/>
<ellipse cx="748.8" cy="541.5" rx="2.8" ry="4.3" transform="rotate(25 748.8 541.5)" stroke-width="1.62" fill="none"/>
<path d="M764.0 558.4L793.5 578.9L802.5 566.1L773.0 545.6Z" fill="#fff" stroke="none"/>
<ellipse cx="768.5" cy="552.0" rx="3.9" ry="7.8" transform="rotate(34.796026278268315 768.5 552.0)" stroke-width="2.03" fill="#fff"/>
<path d="M764.0 558.4L793.5 578.9M802.5 566.1L773.0 545.6" stroke-width="2.03"/>
<ellipse cx="798.0" cy="572.5" rx="3.9" ry="7.8" transform="rotate(34.796026278268315 798.0 572.5)" stroke-width="2.03" fill="#fff"/>
<path d="M0 -7.8A3.9 7.8 0 0 1 0 7.8" transform="translate(773.2 555.3) rotate(34.8)" stroke-width="1.89"/>
<path d="M0 -7.8A3.9 7.8 0 0 1 0 7.8" transform="translate(777.9 558.6) rotate(34.8)" stroke-width="3.10"/>
<path d="M0 -7.8A3.9 7.8 0 0 1 0 7.8" transform="translate(783.2 562.2) rotate(34.8)" stroke-width="1.89"/>
<path d="M0 -7.8A3.9 7.8 0 0 1 0 7.8" transform="translate(787.4 565.1) rotate(34.8)" stroke-width="3.51"/>
<path d="M0 -7.8A3.9 7.8 0 0 1 0 7.8" transform="translate(791.5 568.0) rotate(34.8)" stroke-width="2.70"/>
<ellipse cx="798.0" cy="572.5" rx="1.9" ry="3.5" transform="rotate(34.796026278268315 798.0 572.5)" stroke-width="1.76" fill="none"/>
<ellipse cx="775.4" cy="553.8" rx="1.2" ry="1.2" transform="rotate(0 775.4 553.8)" stroke-width="1.35" fill="none"/>
<ellipse cx="784.2" cy="559.9" rx="1.2" ry="1.2" transform="rotate(0 784.2 559.9)" stroke-width="1.35" fill="none"/>
<ellipse cx="814.0" cy="576.2" rx="6.5" ry="8.8" transform="rotate(25 814.0 576.2)" stroke-width="2.03" fill="#fff"/>
<ellipse cx="814.0" cy="576.2" rx="4.0" ry="5.5" transform="rotate(25 814.0 576.2)" stroke-width="1.62" fill="none"/>
<ellipse cx="826.6" cy="585.0" rx="3.8" ry="8.6" transform="rotate(28 826.6 585.0)" stroke-width="2.43" fill="none"/>
<ellipse cx="839.8" cy="593.2" rx="3.8" ry="8.6" transform="rotate(28 839.8 593.2)" stroke-width="2.43" fill="none"/>
<ellipse cx="853.0" cy="599.0" rx="5.0" ry="7.8" transform="rotate(25 853.0 599.0)" stroke-width="2.03" fill="#fff"/>
<ellipse cx="853.0" cy="599.0" rx="2.8" ry="4.3" transform="rotate(25 853.0 599.0)" stroke-width="1.62" fill="none"/>
<path d="M867.0 615.6L888.7 627.0L893.3 618.2L871.6 606.8Z" fill="#fff" stroke="none"/>
<ellipse cx="869.3" cy="611.2" rx="2.2" ry="5.0" transform="rotate(27.714994510631595 869.3 611.2)" stroke-width="2.70" fill="#fff"/>
<path d="M867.0 615.6L888.7 627.0M893.3 618.2L871.6 606.8" stroke-width="2.70"/>
<ellipse cx="891.0" cy="622.6" rx="2.2" ry="5.0" transform="rotate(27.714994510631595 891.0 622.6)" stroke-width="2.70" fill="#fff"/>
<path d="M0 -5.0A2.2 5.0 0 0 1 0 5.0" transform="translate(876.5 615.0) rotate(27.7)" stroke-width="2.70"/>
<path d="M0 -5.0A2.2 5.0 0 0 1 0 5.0" transform="translate(883.8 618.8) rotate(27.7)" stroke-width="2.70"/>
<path d="M901.0 636.3L923.7 646.8L927.9 637.8L905.2 627.3Z" fill="#fff" stroke="none"/>
<ellipse cx="903.1" cy="631.8" rx="2.2" ry="5.0" transform="rotate(24.823140372888727 903.1 631.8)" stroke-width="2.70" fill="#fff"/>
<path d="M901.0 636.3L923.7 646.8M927.9 637.8L905.2 627.3" stroke-width="2.70"/>
<ellipse cx="925.8" cy="642.3" rx="2.2" ry="5.0" transform="rotate(24.823140372888727 925.8 642.3)" stroke-width="2.70" fill="#fff"/>
<path d="M0 -5.0A2.2 5.0 0 0 1 0 5.0" transform="translate(910.7 635.3) rotate(24.8)" stroke-width="2.70"/>
<path d="M0 -5.0A2.2 5.0 0 0 1 0 5.0" transform="translate(918.2 638.8) rotate(24.8)" stroke-width="2.70"/>
<ellipse cx="945.0" cy="653.0" rx="6.8" ry="11.6" transform="rotate(22 945.0 653.0)" stroke-width="3.51" fill="none"/>
<rect x="-10.4" y="-31.0" width="20.8" height="62.0" rx="10.4" ry="10.4" transform="translate(1003.6 677.5) rotate(3.5)" stroke-width="2.16" fill="#fff"/>
<rect x="-10.4" y="-31.0" width="20.8" height="62.0" rx="10.4" ry="10.4" transform="translate(1010.2 676.0) rotate(3.5)" stroke-width="2.03" fill="#fff"/>
<path d="M990.8 673.0L990.8 683.0" stroke-width="4.32" />
<ellipse cx="1012.6" cy="660.8" rx="7.0" ry="9.8" transform="rotate(12 1012.6 660.8)" stroke-width="2.03" fill="none"/>
<ellipse cx="1014.0" cy="660.5" rx="2.4" ry="3.4" transform="rotate(12 1014.0 660.5)" stroke-width="2.56" fill="none"/>
<ellipse cx="1008.2" cy="696.6" rx="6.6" ry="8.6" transform="rotate(12 1008.2 696.6)" stroke-width="2.03" fill="none"/>
<ellipse cx="1009.0" cy="696.0" rx="2.3" ry="3.2" transform="rotate(12 1009.0 696.0)" stroke-width="2.43" fill="none"/>
<path d="M1014 694l3.5 -1.5v-3" stroke-width="1.62" fill="none" />
<path d="M7.52 -3.35A8.00 9.80 0 1 0 3.38 8.88L1.69 4.44A4.00 4.90 0 1 1 3.76 -1.68Z" transform="translate(1037.8 714.7) rotate(22)" stroke-width="2.29" fill="#fff"/>
<path d="M1048.7 724.3L1066.7 735.3L1071.3 727.7L1053.3 716.7Z" fill="#fff" stroke="none"/>
<ellipse cx="1051.0" cy="720.5" rx="2.0" ry="4.4" transform="rotate(31.429565614838516 1051.0 720.5)" stroke-width="2.03" fill="#fff"/>
<path d="M1048.7 724.3L1066.7 735.3M1071.3 727.7L1053.3 716.7" stroke-width="2.03"/>
<ellipse cx="1069.0" cy="731.5" rx="2.0" ry="4.4" transform="rotate(31.429565614838516 1069.0 731.5)" stroke-width="2.03" fill="#fff"/>
<path d="M0 -4.4A2.0 4.4 0 0 1 0 4.4" transform="translate(1057.0 724.2) rotate(31.4)" stroke-width="2.03"/>
<path d="M0 -4.4A2.0 4.4 0 0 1 0 4.4" transform="translate(1063.0 727.8) rotate(31.4)" stroke-width="2.03"/>
<ellipse cx="1075.4" cy="736.1" rx="8.7" ry="11.2" transform="rotate(30 1075.4 736.1)" stroke-width="2.16" fill="#fff"/>
<ellipse cx="1079.5" cy="738.5" rx="8.7" ry="11.2" transform="rotate(30 1079.5 738.5)" stroke-width="2.43" fill="#fff"/>
<path d="M1074.8 728.7L1079.3 731.3" stroke-width="1.76" />
<path d="M1069.8 737.4L1074.3 740.0" stroke-width="1.76" />
<ellipse cx="1079.5" cy="738.5" rx="4.7" ry="6.5" transform="rotate(30 1079.5 738.5)" stroke-width="1.76" fill="none"/>
<path d="M1078.4 740.4l2.8 -4.8" stroke-width="1.62" fill="none" />
<path d="M0 -4.6A2.3 4.6 0 0 0 0 4.6" transform="translate(544.0 609.5) rotate(31.9)" stroke-width="2.16"/>
<path d="M0 -4.6A2.3 4.6 0 0 0 0 4.6" transform="translate(548.6 612.4) rotate(31.9)" stroke-width="2.16"/>
<path d="M0 -4.6A2.3 4.6 0 0 0 0 4.6" transform="translate(553.2 615.2) rotate(31.9)" stroke-width="2.16"/>
<path d="M0 -4.6A2.3 4.6 0 0 0 0 4.6" transform="translate(557.9 618.1) rotate(31.9)" stroke-width="2.16"/>
<ellipse cx="562.5" cy="621.0" rx="2.3" ry="4.6" transform="rotate(31.86597769360368 562.5 621.0)" stroke-width="2.16" fill="none"/>
<path d="M568.7 636.0L600.2 655.0L609.8 639.0L578.3 620.0Z" fill="#fff" stroke="none"/>
<path d="M0 -9.3A5.1 9.3 0 0 0 0 9.3" transform="translate(573.5 628.0) rotate(31.1)" stroke-width="2.03" fill="#fff"/>
<path d="M568.7 636.0L600.2 655.0M609.8 639.0L578.3 620.0" stroke-width="2.03"/>
<ellipse cx="605.0" cy="647.0" rx="5.1" ry="9.3" transform="rotate(31.09731288577945 605.0 647.0)" stroke-width="2.03" fill="#fff"/>
<ellipse cx="599.5" cy="643.7" rx="5.0" ry="9.3" transform="rotate(31 599.5 643.7)" stroke-width="1.76" fill="none"/>
<ellipse cx="620.0" cy="655.1" rx="5.5" ry="9.6" transform="rotate(22 620.0 655.1)" stroke-width="3.24" fill="none"/>
<ellipse cx="632.0" cy="662.3" rx="2.7" ry="5.4" transform="rotate(30.077992540863754 632.0 662.3)" stroke-width="2.56" fill="#fff"/>
<ellipse cx="635.4" cy="664.3" rx="2.7" ry="5.4" transform="rotate(30.077992540863754 635.4 664.3)" stroke-width="2.56" fill="#fff"/>
<ellipse cx="638.9" cy="666.3" rx="2.7" ry="5.4" transform="rotate(30.077992540863754 638.9 666.3)" stroke-width="2.56" fill="#fff"/>
<ellipse cx="642.3" cy="668.3" rx="2.7" ry="5.4" transform="rotate(30.077992540863754 642.3 668.3)" stroke-width="2.56" fill="#fff"/>
<ellipse cx="645.7" cy="670.2" rx="2.7" ry="5.4" transform="rotate(30.077992540863754 645.7 670.2)" stroke-width="2.56" fill="#fff"/>
<ellipse cx="649.1" cy="672.2" rx="2.7" ry="5.4" transform="rotate(30.077992540863754 649.1 672.2)" stroke-width="2.56" fill="#fff"/>
<ellipse cx="652.6" cy="674.2" rx="2.7" ry="5.4" transform="rotate(30.077992540863754 652.6 674.2)" stroke-width="2.56" fill="#fff"/>
<ellipse cx="656.0" cy="676.2" rx="2.7" ry="5.4" transform="rotate(30.077992540863754 656.0 676.2)" stroke-width="2.56" fill="#fff"/>
<rect x="-8.6" y="-24.0" width="17.2" height="48.0" rx="8.6" ry="8.6" transform="translate(670.5 686.0) rotate(24)" stroke-width="2.03" fill="#fff"/>
<rect x="-7.4" y="-22.0" width="14.8" height="44.0" rx="7.4" ry="7.4" transform="translate(673.2 685.0) rotate(24)" stroke-width="1.89" fill="#fff"/>
<ellipse cx="677.5" cy="671.5" rx="2.5" ry="3.5" transform="rotate(20 677.5 671.5)" stroke-width="1.76" fill="none"/>
<ellipse cx="681.0" cy="691.5" rx="5.5" ry="6.5" transform="rotate(20 681.0 691.5)" stroke-width="1.89" fill="#fff"/>
<ellipse cx="684.0" cy="692.5" rx="3.2" ry="4.2" transform="rotate(20 684.0 692.5)" stroke-width="1.76" fill="#fff"/>
<ellipse cx="667.0" cy="703.0" rx="3.0" ry="3.8" transform="rotate(20 667.0 703.0)" stroke-width="2.70" fill="none"/>
<path d="M672 676q-3 4 -2 9" stroke-width="1.49" fill="none" />
<ellipse cx="727.8" cy="716.6" rx="7.8" ry="10.0" transform="rotate(28 727.8 716.6)" stroke-width="2.16" fill="#fff"/>
<ellipse cx="731.5" cy="718.6" rx="7.8" ry="10.0" transform="rotate(28 731.5 718.6)" stroke-width="2.43" fill="#fff"/>
<path d="M727.0 710.0L731.1 712.2" stroke-width="1.76" />
<path d="M722.8 717.9L726.9 720.1" stroke-width="1.76" />
<ellipse cx="732.2" cy="719.0" rx="3.2" ry="4.2" transform="rotate(28 732.2 719.0)" stroke-width="2.03" fill="none"/>
<ellipse cx="732.2" cy="719.0" rx="1.0" ry="1.4" transform="rotate(28 732.2 719.0)" stroke-width="1.62" fill="none"/>
<path d="M6.77 -3.15A7.20 9.20 0 1 0 3.04 8.34L1.52 4.17A3.60 4.60 0 1 1 3.38 -1.57Z" transform="translate(661.0 762.6) rotate(22)" stroke-width="2.29" fill="#fff"/>
<path d="M673.7 772.5L688.7 782.5L693.3 775.5L678.3 765.5Z" fill="#fff" stroke="none"/>
<ellipse cx="676.0" cy="769.0" rx="1.9" ry="4.2" transform="rotate(33.690067525979785 676.0 769.0)" stroke-width="2.03" fill="#fff"/>
<path d="M673.7 772.5L688.7 782.5M693.3 775.5L678.3 765.5" stroke-width="2.03"/>
<ellipse cx="691.0" cy="779.0" rx="1.9" ry="4.2" transform="rotate(33.690067525979785 691.0 779.0)" stroke-width="2.03" fill="#fff"/>
<path d="M0 -4.2A1.9 4.2 0 0 1 0 4.2" transform="translate(681.0 772.3) rotate(33.7)" stroke-width="2.03"/>
<path d="M0 -4.2A1.9 4.2 0 0 1 0 4.2" transform="translate(686.0 775.7) rotate(33.7)" stroke-width="2.03"/>
<ellipse cx="697.5" cy="784.0" rx="7.5" ry="9.6" transform="rotate(30 697.5 784.0)" stroke-width="2.16" fill="#fff"/>
<ellipse cx="701.0" cy="786.0" rx="7.5" ry="9.6" transform="rotate(30 701.0 786.0)" stroke-width="2.43" fill="#fff"/>
<path d="M697.0 777.6L700.8 779.8" stroke-width="1.76" />
<path d="M692.7 785.1L696.5 787.3" stroke-width="1.76" />
<ellipse cx="701.0" cy="786.0" rx="4.0" ry="5.6" transform="rotate(30 701.0 786.0)" stroke-width="1.76" fill="none"/>
<path d="M700.0 787.7l2.4 -4.2" stroke-width="1.62" fill="none" />
<ellipse cx="124.9" cy="378.8" rx="8.6" ry="11.0" transform="rotate(28 124.9 378.8)" stroke-width="2.16" fill="#fff"/>
<ellipse cx="129.0" cy="381.0" rx="8.6" ry="11.0" transform="rotate(28 129.0 381.0)" stroke-width="2.43" fill="#fff"/>
<path d="M124.1 371.5L128.6 373.9" stroke-width="1.76" />
<path d="M119.4 380.3L123.9 382.7" stroke-width="1.76" />
<ellipse cx="129.7" cy="381.4" rx="3.5" ry="4.6" transform="rotate(28 129.7 381.4)" stroke-width="2.03" fill="none"/>
<ellipse cx="129.7" cy="381.4" rx="1.1" ry="1.5" transform="rotate(28 129.7 381.4)" stroke-width="1.62" fill="none"/>
<path d="M161.3 378.3Q169.4 375.5 172.4 386.3L174.4 396.4Q170.5 409 159.3 416.6V420.6H151.2L150.8 410.6L151.2 394.4Q154.2 382.3 161.3 378.3Z" stroke-width="2.03" fill="#fff" />
<path d="M158.5 381.5Q154 388 154.2 398L154.5 411" stroke-width="1.76" fill="none" />
<path d="M161 381l4 -1.5l3 3.5l-2 4z" stroke-width="1.62" fill="none" />
<ellipse cx="163.3" cy="399.5" rx="3.6" ry="2.7" transform="rotate(-10 163.3 399.5)" stroke-width="1.62" fill="none"/>
<ellipse cx="154.6" cy="398.0" rx="1.3" ry="3.0" transform="rotate(10 154.6 398.0)" stroke-width="1.49" fill="none"/>
<rect x="151.6" y="412.8" width="6.6" height="7.2" fill="#000" stroke="none"/>
<rect x="153.6" y="415.6" width="2.6" height="2.6" fill="#fff" stroke="none"/>
<ellipse cx="34.9" cy="392.1" rx="7.5" ry="9.6" transform="rotate(28 34.9 392.1)" stroke-width="2.16" fill="#fff"/>
<ellipse cx="38.5" cy="394.0" rx="7.5" ry="9.6" transform="rotate(28 38.5 394.0)" stroke-width="2.43" fill="#fff"/>
<path d="M34.2 385.7L38.1 387.8" stroke-width="1.76" />
<path d="M30.2 393.4L34.1 395.5" stroke-width="1.76" />
<path d="M38.1 399.2L59.3 411.4L64.1 403.0L42.9 390.8Z" fill="#fff" stroke="none"/>
<ellipse cx="40.5" cy="395.0" rx="2.2" ry="4.8" transform="rotate(29.919208688557482 40.5 395.0)" stroke-width="2.16" fill="#fff"/>
<path d="M38.1 399.2L59.3 411.4M64.1 403.0L42.9 390.8" stroke-width="2.16"/>
<ellipse cx="61.7" cy="407.2" rx="2.2" ry="4.8" transform="rotate(29.919208688557482 61.7 407.2)" stroke-width="2.16" fill="#fff"/>
<path d="M0 -4.8A2.2 4.8 0 0 1 0 4.8" transform="translate(44.7 397.4) rotate(29.9)" stroke-width="2.16"/>
<path d="M0 -4.8A2.2 4.8 0 0 1 0 4.8" transform="translate(49.0 399.9) rotate(29.9)" stroke-width="2.16"/>
<path d="M0 -4.8A2.2 4.8 0 0 1 0 4.8" transform="translate(53.2 402.3) rotate(29.9)" stroke-width="2.16"/>
<path d="M0 -4.8A2.2 4.8 0 0 1 0 4.8" transform="translate(57.5 404.8) rotate(29.9)" stroke-width="2.16"/>
<path d="M6.14 -1.29A6.20 9.30 0 1 0 6.02 2.25L2.71 1.01A2.79 4.19 0 1 1 2.76 -0.58Z" transform="translate(72.5 414.2) rotate(15)" stroke-width="2.43" fill="#fff"/>
<ellipse cx="179.7" cy="408.8" rx="5.3" ry="8.6" transform="rotate(22 179.7 408.8)" stroke-width="2.97" fill="none"/>
<path d="M187.9 416.2L208.9 429.7L213.1 423.3L192.1 409.8Z" fill="#fff" stroke="none"/>
<ellipse cx="190.0" cy="413.0" rx="1.7" ry="3.8" transform="rotate(32.7352262721076 190.0 413.0)" stroke-width="1.76" fill="#fff"/>
<path d="M187.9 416.2L208.9 429.7M213.1 423.3L192.1 409.8" stroke-width="1.76"/>
<ellipse cx="211.0" cy="426.5" rx="1.7" ry="3.8" transform="rotate(32.7352262721076 211.0 426.5)" stroke-width="1.76" fill="#fff"/>
<path d="M0 -3.8A1.7 3.8 0 0 1 0 3.8" transform="translate(195.2 416.4) rotate(32.7)" stroke-width="1.76"/>
<path d="M0 -3.8A1.7 3.8 0 0 1 0 3.8" transform="translate(200.5 419.8) rotate(32.7)" stroke-width="1.76"/>
<path d="M0 -3.8A1.7 3.8 0 0 1 0 3.8" transform="translate(205.8 423.1) rotate(32.7)" stroke-width="1.76"/>
<path d="M209.0 436.6L215.5 440.6L225.5 424.4L219.0 420.4Z" fill="#fff" stroke="none"/>
<ellipse cx="214.0" cy="428.5" rx="5.7" ry="9.5" transform="rotate(31.6075022462489 214.0 428.5)" stroke-width="1.89" fill="#fff"/>
<path d="M209.0 436.6L215.5 440.6M225.5 424.4L219.0 420.4" stroke-width="1.89"/>
<ellipse cx="220.5" cy="432.5" rx="5.7" ry="9.5" transform="rotate(31.6075022462489 220.5 432.5)" stroke-width="1.89" fill="#fff"/>
<ellipse cx="221.5" cy="433.0" rx="4.5" ry="5.5" transform="rotate(30 221.5 433.0)" stroke-width="1.76" fill="none"/>
<path d="M235.8 448.2L269.9 467.9L277.2 455.2L243.0 435.6Z" fill="#fff" stroke="none"/>
<ellipse cx="239.4" cy="441.9" rx="3.6" ry="7.3" transform="rotate(29.916236021496758 239.4 441.9)" stroke-width="2.03" fill="#fff"/>
<path d="M235.8 448.2L269.9 467.9M277.2 455.2L243.0 435.6" stroke-width="2.03"/>
<ellipse cx="273.6" cy="461.5" rx="3.6" ry="7.3" transform="rotate(29.916236021496758 273.6 461.5)" stroke-width="2.03" fill="#fff"/>
<path d="M271.3 465.5L278.1 469.5L282.7 461.5L275.8 457.6Z" fill="#fff" stroke="none"/>
<path d="M0 -4.6A2.3 4.6 0 0 0 0 4.6" transform="translate(273.6 461.5) rotate(29.9)" stroke-width="2.03" fill="#fff"/>
<path d="M271.3 465.5L278.1 469.5M282.7 461.5L275.8 457.6" stroke-width="2.03"/>
<path d="M0 -4.6A2.3 4.6 0 0 1 0 4.6" transform="translate(280.4 465.5) rotate(29.9)" stroke-width="2.03" fill="#fff"/>
<path d="M277.1 471.2L297.6 483.0L304.2 471.5L283.7 459.8Z" fill="#fff" stroke="none"/>
<ellipse cx="280.4" cy="465.5" rx="3.3" ry="6.6" transform="rotate(29.916236021496825 280.4 465.5)" stroke-width="2.03" fill="#fff"/>
<path d="M277.1 471.2L297.6 483.0M304.2 471.5L283.7 459.8" stroke-width="2.03"/>
<ellipse cx="300.9" cy="477.3" rx="3.3" ry="6.6" transform="rotate(29.916236021496825 300.9 477.3)" stroke-width="2.03" fill="#fff"/>
<path d="M298.7 481.1L304.5 484.4L308.9 476.8L303.1 473.5Z" fill="#fff" stroke="none"/>
<path d="M0 -4.4A2.2 4.4 0 0 0 0 4.4" transform="translate(300.9 477.3) rotate(29.9)" stroke-width="2.03" fill="#fff"/>
<path d="M298.7 481.1L304.5 484.4M308.9 476.8L303.1 473.5" stroke-width="2.03"/>
<ellipse cx="306.7" cy="480.6" rx="2.2" ry="4.4" transform="rotate(29.91623602149696 306.7 480.6)" stroke-width="2.03" fill="#fff"/>
<path d="M0 -7.3A3.6 7.3 0 0 1 0 7.3" transform="translate(248.3 447.0) rotate(29.9)" stroke-width="1.76"/>
<path d="M0 -7.3A3.6 7.3 0 0 1 0 7.3" transform="translate(254.4 450.5) rotate(29.9)" stroke-width="3.51"/>
<path d="M0 -7.3A3.6 7.3 0 0 1 0 7.3" transform="translate(261.9 454.9) rotate(29.9)" stroke-width="3.51"/>
<path d="M0 -7.3A3.6 7.3 0 0 1 0 7.3" transform="translate(268.1 458.4) rotate(29.9)" stroke-width="2.97"/>
<path d="M0 -6.6A3.3 6.6 0 0 1 0 6.6" transform="translate(284.5 467.8) rotate(29.9)" stroke-width="3.24"/>
<path d="M0 -6.6A3.3 6.6 0 0 1 0 6.6" transform="translate(289.3 470.6) rotate(29.9)" stroke-width="3.24"/>
<path d="M0 -6.6A3.3 6.6 0 0 1 0 6.6" transform="translate(294.0 473.3) rotate(29.9)" stroke-width="3.51"/>
<path d="M0 -6.6A3.3 6.6 0 0 1 0 6.6" transform="translate(298.1 475.7) rotate(29.9)" stroke-width="2.97"/>
<path d="M297.5 478l4.5 2.5" stroke-width="4.32" fill="none" />
<ellipse cx="248.0" cy="441.5" rx="1.0" ry="1.0" transform="rotate(0 248.0 441.5)" stroke-width="1.62" fill="none"/>
<ellipse cx="262.0" cy="449.0" rx="1.0" ry="1.0" transform="rotate(0 262.0 449.0)" stroke-width="1.62" fill="none"/>
<ellipse cx="272.0" cy="463.0" rx="1.2" ry="1.2" transform="rotate(0 272.0 463.0)" stroke-width="1.89" fill="none"/>
<ellipse cx="303.0" cy="478.3" rx="1.6" ry="2.2" transform="rotate(30 303.0 478.3)" stroke-width="1.62" fill="#fff"/>
<path d="M311.9 492.3L372.4 527.3L380.2 513.7L319.7 478.7Z" fill="#fff" stroke="none"/>
<path d="M0 -7.8A3.9 7.8 0 0 0 0 7.8" transform="translate(315.8 485.5) rotate(30.0)" stroke-width="2.03" fill="#fff"/>
<path d="M311.9 492.3L372.4 527.3M380.2 513.7L319.7 478.7" stroke-width="2.03"/>
<ellipse cx="376.3" cy="520.5" rx="3.9" ry="7.8" transform="rotate(30.04991362098745 376.3 520.5)" stroke-width="2.03" fill="#fff"/>
<path d="M0 -7.8A3.9 7.8 0 0 1 0 7.8" transform="translate(326.1 491.4) rotate(30.0)" stroke-width="3.24"/>
<path d="M0 -7.8A3.9 7.8 0 0 1 0 7.8" transform="translate(330.9 494.2) rotate(30.0)" stroke-width="3.51"/>
<path d="M0 -7.8A3.9 7.8 0 0 1 0 7.8" transform="translate(335.8 497.1) rotate(30.0)" stroke-width="3.51"/>
<path d="M0 -7.8A3.9 7.8 0 0 1 0 7.8" transform="translate(340.6 499.9) rotate(30.0)" stroke-width="2.97"/>
<path d="M0 -7.8A3.9 7.8 0 0 1 0 7.8" transform="translate(344.2 501.9) rotate(30.0)" stroke-width="1.76"/>
<ellipse cx="357.0" cy="507.3" rx="7.2" ry="2.3" transform="rotate(30 357.0 507.3)" stroke-width="2.16" fill="none"/>
<path d="M353 506.5l8 4.5" stroke-width="1.62" fill="none" />
<ellipse cx="376.5" cy="520.7" rx="1.6" ry="2.6" transform="rotate(30 376.5 520.7)" stroke-width="1.62" fill="none"/>
<path d="M163.4 682.5L191.4 698.1L196.6 688.9L168.6 673.3Z" fill="#fff" stroke="none"/>
<ellipse cx="166.0" cy="677.9" rx="2.4" ry="5.3" transform="rotate(29.124053494777463 166.0 677.9)" stroke-width="2.84" fill="#fff"/>
<path d="M163.4 682.5L191.4 698.1M196.6 688.9L168.6 673.3" stroke-width="2.84"/>
<ellipse cx="194.0" cy="693.5" rx="2.4" ry="5.3" transform="rotate(29.124053494777463 194.0 693.5)" stroke-width="2.84" fill="#fff"/>
<path d="M0 -5.3A2.4 5.3 0 0 1 0 5.3" transform="translate(170.7 680.5) rotate(29.1)" stroke-width="2.84"/>
<path d="M0 -5.3A2.4 5.3 0 0 1 0 5.3" transform="translate(175.3 683.1) rotate(29.1)" stroke-width="2.84"/>
<path d="M0 -5.3A2.4 5.3 0 0 1 0 5.3" transform="translate(180.0 685.7) rotate(29.1)" stroke-width="2.84"/>
<path d="M0 -5.3A2.4 5.3 0 0 1 0 5.3" transform="translate(184.7 688.3) rotate(29.1)" stroke-width="2.84"/>
<path d="M0 -5.3A2.4 5.3 0 0 1 0 5.3" transform="translate(189.3 690.9) rotate(29.1)" stroke-width="2.84"/>
<path d="M211.6 714.8L218.4 718.8L228.4 702.0L221.6 698.0Z" fill="#fff" stroke="none"/>
<path d="M0 -9.8A6.5 9.8 0 0 0 0 9.8" transform="translate(216.6 706.4) rotate(30.5)" stroke-width="2.70" fill="#fff"/>
<path d="M211.6 714.8L218.4 718.8M228.4 702.0L221.6 698.0" stroke-width="2.70"/>
<ellipse cx="223.4" cy="710.4" rx="6.5" ry="9.8" transform="rotate(30.465544919459838 223.4 710.4)" stroke-width="2.70" fill="#fff"/>
<path d="M0 -9.8A6.5 9.8 0 0 0 0 9.8" transform="translate(220 708.4) rotate(30.5)" stroke-width="2.43"/>
<path d="M864.0 953.6L893.2 970.9L901.0 957.9L871.8 940.6Z" fill="#fff" stroke="none"/>
<ellipse cx="867.9" cy="947.1" rx="3.8" ry="7.6" transform="rotate(30.645289081785698 867.9 947.1)" stroke-width="2.03" fill="#fff"/>
<path d="M864.0 953.6L893.2 970.9M901.0 957.9L871.8 940.6" stroke-width="2.03"/>
<ellipse cx="897.1" cy="964.4" rx="3.8" ry="7.6" transform="rotate(30.645289081785698 897.1 964.4)" stroke-width="2.03" fill="#fff"/>
<path d="M0 -7.6A3.8 7.6 0 0 1 0 7.6" transform="translate(872.6 949.9) rotate(30.6)" stroke-width="1.89"/>
<path d="M0 -7.6A3.8 7.6 0 0 1 0 7.6" transform="translate(877.2 952.6) rotate(30.6)" stroke-width="3.10"/>
<path d="M0 -7.6A3.8 7.6 0 0 1 0 7.6" transform="translate(882.5 955.8) rotate(30.6)" stroke-width="1.89"/>
<path d="M0 -7.6A3.8 7.6 0 0 1 0 7.6" transform="translate(886.6 958.2) rotate(30.6)" stroke-width="3.51"/>
<path d="M0 -7.6A3.8 7.6 0 0 1 0 7.6" transform="translate(890.7 960.6) rotate(30.6)" stroke-width="2.70"/>
<ellipse cx="897.1" cy="964.4" rx="1.9" ry="3.4" transform="rotate(30.645289081785698 897.1 964.4)" stroke-width="1.76" fill="none"/>
<ellipse cx="874.7" cy="948.3" rx="1.2" ry="1.2" transform="rotate(0 874.7 948.3)" stroke-width="1.35" fill="none"/>
<ellipse cx="883.5" cy="953.5" rx="1.2" ry="1.2" transform="rotate(0 883.5 953.5)" stroke-width="1.35" fill="none"/>
<path d="M925.6 990.0L955.4 1006.7L962.8 993.5L933.0 976.8Z" fill="#fff" stroke="none"/>
<ellipse cx="929.3" cy="983.4" rx="3.8" ry="7.6" transform="rotate(29.266387363636976 929.3 983.4)" stroke-width="2.03" fill="#fff"/>
<path d="M925.6 990.0L955.4 1006.7M962.8 993.5L933.0 976.8" stroke-width="2.03"/>
<ellipse cx="959.1" cy="1000.1" rx="3.8" ry="7.6" transform="rotate(29.266387363636976 959.1 1000.1)" stroke-width="2.03" fill="#fff"/>
<path d="M0 -7.6A3.8 7.6 0 0 1 0 7.6" transform="translate(934.1 986.1) rotate(29.3)" stroke-width="1.89"/>
<path d="M0 -7.6A3.8 7.6 0 0 1 0 7.6" transform="translate(938.8 988.7) rotate(29.3)" stroke-width="3.10"/>
<path d="M0 -7.6A3.8 7.6 0 0 1 0 7.6" transform="translate(944.2 991.8) rotate(29.3)" stroke-width="1.89"/>
<path d="M0 -7.6A3.8 7.6 0 0 1 0 7.6" transform="translate(948.4 994.1) rotate(29.3)" stroke-width="3.51"/>
<path d="M0 -7.6A3.8 7.6 0 0 1 0 7.6" transform="translate(952.5 996.4) rotate(29.3)" stroke-width="2.70"/>
<ellipse cx="959.1" cy="1000.1" rx="1.9" ry="3.4" transform="rotate(29.266387363636976 959.1 1000.1)" stroke-width="1.76" fill="none"/>
<ellipse cx="936.3" cy="984.5" rx="1.2" ry="1.2" transform="rotate(0 936.3 984.5)" stroke-width="1.35" fill="none"/>
<ellipse cx="945.2" cy="989.5" rx="1.2" ry="1.2" transform="rotate(0 945.2 989.5)" stroke-width="1.35" fill="none"/>
<ellipse cx="160.5" cy="872.6" rx="16.6" ry="24.2" transform="rotate(-25 160.5 872.6)" stroke-width="2.84" fill="none"/>
<path d="M415.8 337L420 330L440 322L447 321.5L454 326L470 340L525 371L570.3 393.6L571 405L580 412L582.5 423V443L580 453L572 465L562 470.6L550 470L535 463.6L523.4 461L509 468L415.8 414Z" stroke-width="0.00" fill="#fff" stroke="none"/>
<path d="M397.8 384.5Q391.5 366 394.6 348.5Q398 333 412 324.8Q420 323.5 426.1 329.3" stroke-width="2.29" fill="#fff" />
<path d="M416.5 358.8V337.6Q419 331 438.9 322.2Q448 320 453.1 325.4L470.4 340.2" stroke-width="2.29" fill="none" />
<path d="M397.8 347.9L415.8 358.2" stroke-width="2.29" />
<path d="M421 338.9Q430 346 439 342.1L444.7 337.6" stroke-width="1.89" fill="none" />
<path d="M419.7 352.5l5 -4.5l4 2.5l-5 4.5z" stroke-width="1.89" fill="none" />
<path d="M428.7 346.6L441.5 343.5" stroke-width="1.76" />
<path d="M450.5 336l7 -3M452 340.5l7 -3" stroke-width="1.76" fill="none" />
<path d="M401.4 371.6L401.4 400.0" stroke-width="2.29" />
<path d="M401.4 371.6L411 376.5M401.4 378.5L415.5 385.5M402 387L415.5 393.5" stroke-width="1.89" fill="none" />
<path d="M393 362q-1 8 1.5 14M397.5 372q0 6 1.5 11" stroke-width="1.76" fill="none" />
<path d="M415.8 358.8V414L509 468V410" stroke-width="2.29" fill="none" />
<path d="M421 362L509 409.5" stroke-width="2.03" fill="none" stroke-dasharray="22 2.5"/>
<path d="M509.0 410.0L523.8 402.4" stroke-width="2.29" />
<path d="M509.0 468.0L523.8 461.0" stroke-width="2.29" />
<path d="M418.5 382.8h2.5" stroke-width="1.76" fill="none" />
<path d="M477.5 343.4L518.6 366.5" stroke-width="2.29" />
<path d="M487.7 360L517.3 346.6M501 347L519 365" stroke-width="2.16" fill="none" />
<path d="M486 358l6 -5l20 10.5l-5 5z" stroke-width="1.49" fill="none" />
<path d="M498 367l3 2M505 369l3 2" stroke-width="2.16" fill="none" />
<rect x="443.6" y="369.8" width="6.8" height="4.3" stroke-width="1.4" fill="#fff"/>
<ellipse cx="458.5" cy="370.3" rx="4.0" ry="1.9" transform="rotate(0 458.5 370.3)" stroke-width="1.89" fill="none"/>
<ellipse cx="472.0" cy="377.0" rx="8.0" ry="5.6" transform="rotate(0 472.0 377.0)" stroke-width="2.43" fill="#fff"/>
<path d="M465.5 376l13 2M470 372.5l4 9.5M467 380l10 -6" stroke-width="2.97" fill="none" />
<path d="M470 367l8 3l9 -4" stroke-width="2.03" fill="none" />
<path d="M483 376l5 -1.5l2 1.5M487 384l3 2l0.5 -4" stroke-width="1.89" fill="none" />
<ellipse cx="503.2" cy="381.3" rx="3.8" ry="1.9" transform="rotate(0 503.2 381.3)" stroke-width="1.89" fill="none"/>
<ellipse cx="521.0" cy="385.0" rx="10.6" ry="6.6" transform="rotate(0 521.0 385.0)" stroke-width="2.70" fill="#fff"/>
<rect x="516.6" y="382" width="8" height="4.4" rx="1" stroke-width="1.8" fill="#fff"/>
<path d="M516 393.5h8" stroke-width="1.89" fill="none" />
<path d="M524.7 371.1L553 384.6L570.3 393.6V404" stroke-width="2.29" fill="none" />
<path d="M531 385q8 -3 10 5M545 388l8 4" stroke-width="2.03" fill="none" />
<path d="M522 396.8L551 411.4" stroke-width="2.16" fill="none" />
<path d="M544 397l5 -3M552 394l5 -2.5M546 404l3 -1M557 399l2 -1" stroke-width="1.89" fill="none" />
<path d="M557 403L569.6 396.1" stroke-width="2.03" fill="none" />
<path d="M533 404.5q5 -3 9 0" stroke-width="1.89" fill="none" />
<path d="M523.6 402V438M527.2 402V436M530.8 403V438" stroke-width="2.03" fill="none" />
<path d="M523.6 440l10.5 4.5v18h-10.5z" stroke-width="2.16" fill="#fff" />
<rect x="526" y="448.5" width="6.4" height="13.8" fill="#000" stroke-width="1"/>
<rect x="528.6" y="457" width="3" height="3.6" fill="#fff" stroke="none"/>
<ellipse cx="515.7" cy="436.0" rx="4.2" ry="6.6" transform="rotate(28 515.7 436.0)" stroke-width="2.03" fill="none"/>
<path d="M516.5 419.5l2.2 2.8l-2.2 2.8l-2.2 -2.8z" stroke-width="1.62" fill="none" />
<path d="M517 454.5l2.2 2.8l-2.2 2.8l-2.2 -2.8z" stroke-width="1.62" fill="none" />
<ellipse cx="513.5" cy="449.7" rx="1.9" ry="1.4" transform="rotate(0 513.5 449.7)" stroke-width="2.43" fill="#000"/>
<path d="M509.6 425v6M509.6 440v8" stroke-width="2.97" fill="none" />
<path d="M553 405.5Q566 402.5 574 408Q582 413.5 582.5 423V443Q581.5 455 572.2 464.9Q562 472 550.4 470L535 463.6" stroke-width="2.29" fill="none" />
<path d="M581 418q3.5 12 0.5 27" stroke-width="2.97" fill="none" />
<path d="M561.9 407Q556.8 416 553.9 432.7V468" stroke-width="2.03" fill="none" />
<path d="M566 409Q560.5 420 558 431" stroke-width="1.76" fill="none" />
<ellipse cx="571.6" cy="441.1" rx="7.0" ry="10.6" transform="rotate(27 571.6 441.1)" stroke-width="2.16" fill="none"/>
<ellipse cx="562.8" cy="434.0" rx="1.9" ry="2.7" transform="rotate(20 562.8 434.0)" stroke-width="2.03" fill="none"/>
<ellipse cx="569.0" cy="460.5" rx="2.0" ry="3.0" transform="rotate(25 569.0 460.5)" stroke-width="1.89" fill="none"/>
<ellipse cx="571.0" cy="426.5" rx="1.8" ry="2.4" transform="rotate(20 571.0 426.5)" stroke-width="1.89" fill="none"/>
<ellipse cx="574.0" cy="414.5" rx="3.0" ry="4.0" transform="rotate(0 574.0 414.5)" stroke-width="2.43" fill="none"/>
<ellipse cx="573.5" cy="421.5" rx="2.2" ry="2.2" transform="rotate(0 573.5 421.5)" stroke-width="2.43" fill="none"/>
<ellipse cx="557.5" cy="409.0" rx="4.3" ry="2.8" transform="rotate(-10 557.5 409.0)" stroke-width="2.16" fill="none"/>
<path d="M535 413l4 -1.5l3 3l-1 6l-4 1.5l-3 -3z" stroke-width="2.97" fill="none" />
<path d="M537 414.5l2 5M540 414l-4 4" stroke-width="1.89" fill="none" />
<path d="M539.5 452l7 -1.5l1.5 9l-5 4l-4 -3z" stroke-width="2.29" fill="none" />
<path d="M542 455l3 -0.5l0.5 4l-2.5 1.5z" stroke-width="1.76" fill="none" />
<rect x="551.8" y="453.5" width="4.8" height="13.6" fill="#000" stroke-width="1"/>
<rect x="553.6" y="462" width="2" height="3.6" fill="#fff" stroke="none"/>
<path d="M583.1 425.0L589.5 428.3L589.5 395.5L597.9 399.4" stroke-width="2.29" fill="none" />
<path d="M579.9 446.2L588.9 451.4" stroke-width="2.03" />
<path d="M533.7 462.0L533.7 606.0" stroke-width="2.97" />
<path d="M112 1106Q125 1084 147 1071Q167 1066 189 1073Q213 1088 233 1106Q249 1128 263.9 1168Q273 1205 272.7 1212Q272 1235 266 1247Q258 1262 248 1269Q232 1280 213 1277Q189 1270 163 1252L143 1221" stroke-width="1.72" fill="none" />
<path d="M222 1080Q253 1117 272.7 1163.7Q280 1195 278.3 1212Q278 1235 272.7 1249.5Q266 1264 255 1274Q240 1281 222 1278.5" stroke-width="1.72" fill="none" />
<path d="M255 1179Q263 1205 261.7 1221Q261 1242 257 1256" stroke-width="1.49" fill="none" />
<path d="M145 1077.5Q155 1075 165 1077.5Q176 1081 184.7 1087.4" stroke-width="1.61" fill="none" />
<path d="M117.5 1044.5L106.5 1052.2Q103 1060 103.2 1066.5V1084Q106 1094 112 1106Q109 1125 109.8 1146Q111 1165 116.4 1179L123 1192.3" stroke-width="1.72" fill="none" />
<path d="M106.5 1135Q103 1140 103.2 1148Q103 1160 106 1168L112 1177" stroke-width="1.61" fill="none" />
<path d="M106.5 1052.2L156 1054.4L182.5 1059.9L213.3 1073.1" stroke-width="1.72" fill="none" />
<path d="M117.5 1044.5H146" stroke-width="1.72" fill="none" stroke-dasharray="30 4"/>
<path d="M153 1044.5H183" stroke-width="1.72" fill="none" stroke-dasharray="12 4"/>
<path d="M213 1073L240 1080Q262 1094 279.4 1108.6Q290 1121 297 1135Q306 1152 310.2 1168Q311 1178 308 1183.5L294.8 1192.3Q290 1201 291.5 1212Q293 1224 297 1234L301.4 1242.9L310.5 1239V1270.5L299.2 1277H213" stroke-width="1.72" fill="none" />
<path d="M268.4 1104.2Q280 1116 288.2 1128.4Q296 1146 299.2 1163.7Q301 1175 300.3 1186.5" stroke-width="1.61" fill="none" />
<path d="M301.4 1242.9V1275" stroke-width="1.61" fill="none" />
<path d="M303 1190L325 1176.9Q336 1176 342.7 1181.3Q343 1192 340.5 1203.3Q339 1211 336 1216.5Q325 1224 309.6 1229.7" stroke-width="1.72" fill="none" />
<path d="M309.6 1203.3L318.4 1190L331.6 1187.9L335 1198.9L325 1214.3L313 1216.5Z" stroke-width="1.72" fill="none" />
<path d="M313.5 1204L320 1193.5L329 1192L331 1199Q328 1208 322 1211" stroke-width="1.38" fill="none" />
<path d="M138.4 1150Q139 1136 148 1129Q160 1123 175 1127Q192 1134 208.9 1154.9Q220 1172 222.5 1190Q224 1208 218 1219Q210 1230 197.9 1231Q190 1231 182.5 1227.5" stroke-width="1.72" fill="none" />
<path d="M149.4 1164Q150 1156 158 1152Q170 1149 181 1157Q193 1168 200.1 1185.7Q203 1198 199 1206Q194 1213 182.5 1214.3Q176 1214 171 1211" stroke-width="1.72" fill="none" />
<path d="M196 1170Q201 1180 203.5 1192" stroke-width="1.38" fill="none" />
<path d="M123 1192.3L167 1168Q176 1165 180 1170" stroke-width="1.72" fill="#fff" />
<path d="M142.8 1220.9L160 1212L184 1199Q188 1194 186.9 1187Q186 1183 184.7 1181" stroke-width="1.72" fill="none" />
<path d="M123 1192.3Q120.5 1203 124.5 1212Q130 1220 142.8 1220.9" stroke-width="1.72" fill="#fff" />
<path d="M123 1192.3Q130 1190 136.5 1196Q143 1205 142.8 1220.9" stroke-width="1.72" fill="none" />
<path d="M130.2 1190.9L154.7 1177.4" stroke-width="1.26" fill="none" />
<path d="M143.4 1217.9L166.2 1205.4" stroke-width="1.26" fill="none" />
<path d="M132.2 1192.5L153.2 1180.9" stroke-width="1.26" fill="none" />
<path d="M143.2 1215.4L163.3 1204.3" stroke-width="1.26" fill="none" />
<path d="M134.2 1194.0L151.7 1184.3" stroke-width="1.26" fill="none" />
<path d="M143.0 1212.9L160.5 1203.3" stroke-width="1.26" fill="none" />
<path d="M143.5 1208l8 -4M147 1204.5l6 -3" stroke-width="1.26" fill="none" />
<path d="M143 1183V1170M148.4 1180.5V1169" stroke-width="1.49" fill="none" />
<path d="M176 1172l2 1" stroke-width="2.07" fill="none" />
<ellipse cx="177.5" cy="1143.3" rx="7.7" ry="8.5" transform="rotate(-20 177.5 1143.3)" stroke-width="1.72" fill="#fff"/>
<ellipse cx="178.5" cy="1141.8" rx="6.1" ry="6.8" transform="rotate(-20 178.5 1141.8)" stroke-width="1.38" fill="none"/>
<path d="M173.2 1145.0l2.5 3.4" stroke-width="1.84" fill="none" />
<ellipse cx="141.2" cy="1162.0" rx="6.8" ry="7.5" transform="rotate(-20 141.2 1162.0)" stroke-width="1.72" fill="#fff"/>
<ellipse cx="142.2" cy="1160.5" rx="5.4" ry="6.0" transform="rotate(-20 142.2 1160.5)" stroke-width="1.38" fill="none"/>
<path d="M137.4 1163.5l2.2 3.0" stroke-width="1.84" fill="none" />
<ellipse cx="194.6" cy="1160.4" rx="7.4" ry="8.2" transform="rotate(-20 194.6 1160.4)" stroke-width="1.72" fill="#fff"/>
<ellipse cx="195.6" cy="1158.9" rx="5.9" ry="6.6" transform="rotate(-20 195.6 1158.9)" stroke-width="1.38" fill="none"/>
<path d="M190.5 1162.0l2.5 3.3" stroke-width="1.84" fill="none" />
<ellipse cx="211.1" cy="1201.0" rx="6.8" ry="7.5" transform="rotate(-20 211.1 1201.0)" stroke-width="1.72" fill="#fff"/>
<ellipse cx="212.1" cy="1199.5" rx="5.4" ry="6.0" transform="rotate(-20 212.1 1199.5)" stroke-width="1.38" fill="none"/>
<path d="M207.3 1202.5l2.2 3.0" stroke-width="1.84" fill="none" />
<ellipse cx="175.3" cy="1219.3" rx="7.4" ry="8.2" transform="rotate(-20 175.3 1219.3)" stroke-width="1.72" fill="#fff"/>
<ellipse cx="176.3" cy="1217.8" rx="5.9" ry="6.6" transform="rotate(-20 176.3 1217.8)" stroke-width="1.38" fill="none"/>
<path d="M171.2 1220.9l2.5 3.3" stroke-width="1.84" fill="none" />
<ellipse cx="85.8" cy="1089.8" rx="0.8" ry="0.8" transform="rotate(0 85.8 1089.8)" stroke-width="1.38" fill="#000"/>
<path d="M142.8 1002.7L147.2 993.9L153.9 991.7L178.1 980.6L186.9 981.7" stroke-width="1.72" fill="none" />
<path d="M156 1002.7L193.5 982.8" stroke-width="1.72" fill="none" />
<path d="M148.3 1006L146.1 1040.1M156 1002.7L152.8 1041.2M143 1044.5H151" stroke-width="1.72" fill="none" />
<path d="M143 1003q-2 6 2 9l4 -6M147 994l6 9" stroke-width="1.49" fill="none" />
<path d="M186.9 981.7L199 977.3L200.1 966.3L219.9 950.9L233.1 939.9L259.5 954.2L263.9 957.5L288.2 944.3L330.9 966.8L354.8 954.9L402.5 980.6" stroke-width="1.72" fill="none" />
<path d="M200.1 967.4L326.7 1037.9" stroke-width="1.72" fill="none" />
<path d="M222.1 952L283.8 985" stroke-width="1.72" fill="none" />
<path d="M226 946l22 12M231 957l8 -6.5M247 966l9 -7M250 968l8 -6" stroke-width="1.38" fill="none" />
<path d="M206.7 975.1L235.3 988.3M204.5 979.5L247.4 1001.6" stroke-width="1.61" fill="none" />
<path d="M267.2 1004.9L327 1037.6M277.2 1019.2L321.7 1042.9" stroke-width="1.61" fill="none" />
<path d="M162 1008l16 8" stroke-width="1.49" fill="none" />
<path d="M188 1016Q192 1003 206 1000Q219 998 226 1006L243 1006Q256 1010 262.8 1019Q266 1028 262 1034Q253 1041 236 1041Q222 1040 212 1033L201 1026" stroke-width="1.72" fill="#fff" />
<ellipse cx="207.8" cy="1012.6" rx="11.5" ry="10.5" transform="rotate(0 207.8 1012.6)" stroke-width="1.72" fill="#fff"/>
<ellipse cx="208.5" cy="1010.0" rx="10.0" ry="8.5" transform="rotate(0 208.5 1010.0)" stroke-width="1.49" fill="none"/>
<path d="M197 1013v7M203 1017v6M219 1011v7" stroke-width="1.84" fill="none" />
<ellipse cx="239.7" cy="1025.8" rx="15.4" ry="10.0" transform="rotate(-8 239.7 1025.8)" stroke-width="1.72" fill="none"/>
<ellipse cx="226.0" cy="1010.0" rx="6.5" ry="5.5" transform="rotate(0 226.0 1010.0)" stroke-width="1.49" fill="none"/>
<path d="M188 1016L184.7 1044.5M184.7 1048.9L213.3 1066.5L239.7 1075.3V1050L268.4 1040.1M248.5 1051.1L263.9 1043.4" stroke-width="1.72" fill="none" />
<path d="M262.8 1029L266.1 1037.9L283.8 1032.4" stroke-width="1.72" fill="none" />
<path d="M248.5 1057.7L277.2 1073.1" stroke-width="1.72" fill="none" />
<path d="M263 1022.8L264.9 1031.9L272.2 1039.3L285 1032.8" stroke-width="1.49" fill="none" />
<path d="M332 971.5Q322 967 315 972Q311 977 318 980Q326 982 331 978" stroke-width="1.72" fill="none" />
<path d="M288.7 987.9Q296 982 304 987.5Q308 991 308 995.2" stroke-width="1.72" fill="none" />
<ellipse cx="331.0" cy="1003.5" rx="10.0" ry="5.5" transform="rotate(0 331.0 1003.5)" stroke-width="1.72" fill="none"/>
<path d="M341 1000.7H347.4L382.3 1022.8" stroke-width="1.72" fill="none" />
<path d="M230 955.8L349.3 1025.5L350.4 1075" stroke-width="1.72" fill="none" />
<path d="M349.3 1025.5L327.2 1038.3L326.3 1046.6L307.1 1056.7L285 1068.6Q279 1073 278.6 1080V1092" stroke-width="1.72" fill="none" />
<path d="M248.3 1057.6L275.9 1072.3" stroke-width="1.49" fill="none" />
<path d="M241 1051.2L238.3 1072.3" stroke-width="1.72" fill="none" />
<path d="M288.7 1083.3Q296 1069 318.1 1060.4Q333 1061 347.4 1076" stroke-width="1.72" fill="none" />
<path d="M307.1 1056.7Q320 1054 332 1062" stroke-width="1.49" fill="none" />
<path d="M277.2 1073.1L310.2 1057.7L330 1053.3" stroke-width="1.72" fill="none" />
<path d="M277.2 1073.1V1112.8L288.2 1129.9" stroke-width="1.72" fill="none" />
<path d="M283.8 1075.3L281.6 1112.8Q284 1122 292 1130.6" stroke-width="1.49" fill="none" />
<ellipse cx="299.2" cy="1085.2" rx="7.5" ry="8.3" transform="rotate(-20 299.2 1085.2)" stroke-width="1.72" fill="#fff"/>
<ellipse cx="300.2" cy="1083.7" rx="6.0" ry="6.6" transform="rotate(-20 300.2 1083.7)" stroke-width="1.38" fill="none"/>
<path d="M295.1 1086.9l2.5 3.3" stroke-width="1.84" fill="none" />
<ellipse cx="310.7" cy="1126.8" rx="7.5" ry="8.3" transform="rotate(-20 310.7 1126.8)" stroke-width="1.72" fill="#fff"/>
<ellipse cx="311.7" cy="1125.3" rx="6.0" ry="6.6" transform="rotate(-20 311.7 1125.3)" stroke-width="1.38" fill="none"/>
<path d="M306.6 1128.5l2.5 3.3" stroke-width="1.84" fill="none" />
<ellipse cx="339.6" cy="1075.6" rx="6.8" ry="7.5" transform="rotate(-20 339.6 1075.6)" stroke-width="1.72" fill="#fff"/>
<ellipse cx="340.6" cy="1074.1" rx="5.4" ry="6.0" transform="rotate(-20 340.6 1074.1)" stroke-width="1.38" fill="none"/>
<path d="M335.9 1077.1l2.2 3.0" stroke-width="1.84" fill="none" />
<path d="M239.7 1080.8L263.9 1106.1M233 1084l18 22" stroke-width="1.49" fill="none" />
<path d="M300 1056.9H322L333 1065.7L350.6 1092.1L355 1103.1" stroke-width="1.61" fill="none" />
<path d="M344.9 1080Q342 1094 336 1102Q331 1110 325 1115.2Q330 1122 336 1121.8Q345 1119 351.5 1113Q360 1106 364.7 1097.6" stroke-width="1.61" fill="none" />
<path d="M307.4 1154.9L336 1139.4L362.5 1124M292 1143.9L307.4 1154.9" stroke-width="1.61" fill="none" />
<path d="M310.7 1183.5L342.7 1157.1L366.9 1141.7" stroke-width="1.61" fill="none" />
<path d="M270 1117.4Q284 1131 292 1143.9Q301 1154 303 1163.7V1187.9" stroke-width="1.61" fill="none" />
<path d="M278.8 1119.6Q292 1131 300.8 1143.9Q309 1154 310.7 1163.7V1183.5" stroke-width="1.61" fill="none" />
<path d="M340 1140l4 12l6 -3M354 1152q6 6 7 16" stroke-width="1.38" fill="none" />
<path d="M366.9 1086.6V1194.5" stroke-width="1.61" fill="none" stroke-dasharray="40 4"/>
<path d="M385.6 1091V1181.3" stroke-width="2.99" fill="none" />
<path d="M402.1 1128.4V1172.5" stroke-width="1.61" fill="none" />
<path d="M347 1159.3V1190" stroke-width="1.61" fill="none" stroke-dasharray="14 4"/>
<path d="M443.9 1146.1L366.9 1194.5L340.5 1203.3" stroke-width="1.72" fill="none" />
<path d="M350 1196q8 6 17 -1" stroke-width="1.38" fill="none" />
<path d="M396.1 961.3L421.1 946.6" stroke-width="1.72" fill="none" />
<path d="M367.2 861.8V930.1H363.9V949.9L394.7 962" stroke-width="1.72" fill="none" />
<path d="M367.2 861.8L388.1 850.8L394.7 853L413.4 829.9L425.5 834.3L450.8 848.6" stroke-width="1.72" fill="none" />
<path d="M394.7 853L434.3 876.1M399.1 853L427.7 838.7" stroke-width="1.72" fill="none" />
<path d="M403.5 842q1 -8 8 -10l6 2" stroke-width="1.49" fill="none" />
<path d="M368.5 863.5L419 890" stroke-width="1.72" fill="none" />
<path d="M457.6 912.8L494.9 934.5V994" stroke-width="1.72" fill="none" />
<path d="M494.5 936.0L494.5 993.0" stroke-width="2.53" />
<path d="M494.9 934.5L516.9 922.4L470.8 895.2" stroke-width="1.72" fill="none" />
<path d="M367.2 930.1L389.2 938.9M366 935L388 943.5" stroke-width="1.49" fill="none" />
<path d="M386 949v3M391 951.5h4" stroke-width="1.84" fill="none" />
<ellipse cx="434.3" cy="935.6" rx="13.0" ry="19.5" transform="rotate(-22 434.3 935.6)" stroke-width="1.72" fill="none"/>
<path d="M410.1 963.1L491.6 998.4M420 959.8L494.9 994M440 966L489 988" stroke-width="1.49" fill="none" />
<path d="M436 866Q437 855 450 852Q464 850 472 856L492 867Q507 872 510 884Q512 893 504 899Q496 904 486 901L476 897L441 877.5Q435 873 436 866Z" stroke-width="1.72" fill="#fff" />
<ellipse cx="458.1" cy="862.9" rx="12.0" ry="8.4" transform="rotate(-5 458.1 862.9)" stroke-width="1.72" fill="none"/>
<path d="M470 872Q476 864 487 866" stroke-width="1.49" fill="none" />
<ellipse cx="490.5" cy="886.0" rx="12.5" ry="9.5" transform="rotate(0 490.5 886.0)" stroke-width="1.72" fill="#fff"/>
<ellipse cx="490.5" cy="882.5" rx="11.5" ry="8.0" transform="rotate(0 490.5 882.5)" stroke-width="1.49" fill="#fff"/>
<path d="M479 883v8M484 888v7M502 882v8" stroke-width="1.72" fill="none" />
<path d="M476 889Q480 899 494 899Q505 897 507 888" stroke-width="1.38" fill="none" />
<path d="M509.2 882.8L554.5 906.2L572.1 916.1" stroke-width="1.72" fill="none" />
<path d="M512 887l4 9M504 903l10 -6" stroke-width="1.49" fill="none" />
<path d="M374.9 956.5L458.5 1002.8" stroke-width="1.72" fill="none" />
<path d="M300 949.9L333 966.4" stroke-width="1.49" fill="none" />
<path d="M363.9 1005.3L378.6 997.1M379.5 982.4V1019.1" stroke-width="1.49" fill="none" />
<path d="M372 986l8 -6l18 13l-8 6zM373 989.7l5 3" stroke-width="1.49" fill="none" />
<path d="M371 987l4 5" stroke-width="2.76" fill="none" />
<path d="M343.8 962.2L402.5 993.4M358.4 954.9L430 992.5M402.5 980.6L395.1 985.1L430 1002.6" stroke-width="1.49" fill="none" />
<path d="M395.1 1000.7L406.1 1001.7L408.9 1008.1L382.3 1024.6" stroke-width="1.49" fill="none" />
<path d="M356 981q8 -3 14 4" stroke-width="1.38" fill="none" />
<path d="M352.8 1028.3L363.9 1023.9L383.7 1027Q392 1030 394 1040Q398 1057 394 1075Q390 1085 379.3 1087.7Q368 1088 360 1083Q353 1077 352.8 1068Z" stroke-width="1.72" fill="#fff" />
<path d="M370.5 1043.7Q368 1065 370.5 1085.5" stroke-width="1.61" fill="none" />
<path d="M376 1038Q371 1046 370.5 1055" stroke-width="1.38" fill="none" />
<path d="M390 1054Q383 1051 380 1058Q379 1065 386 1064" stroke-width="1.61" fill="none" />
<path d="M396.0 1050.0L398.0 1062.0" stroke-width="2.99" />
<path d="M388.1 1023.9L403.5 1015L423.3 1017.2Q436 1021 440.9 1026.1L445.3 1052.5L410.1 1067.9Q402 1068 399.1 1063.5L397 1050" stroke-width="1.72" fill="none" />
<ellipse cx="420.0" cy="1038.5" rx="13.0" ry="16.0" transform="rotate(-25 420.0 1038.5)" stroke-width="1.72" fill="none"/>
<ellipse cx="418.0" cy="1039.0" rx="9.0" ry="11.5" transform="rotate(-25 418.0 1039.0)" stroke-width="1.61" fill="none"/>
<ellipse cx="421.0" cy="1041.0" rx="5.0" ry="6.5" transform="rotate(-25 421.0 1041.0)" stroke-width="1.61" fill="none"/>
<path d="M410 1027l3 5M415 1024l1 6M430 1032l-4 3M428 1046l-5 -2M412 1045l4 -3" stroke-width="1.72" fill="none" />
<path d="M396.9 997.4L436.5 1017.2Q442 1021 443.1 1026.1L449.7 1052.5L456.3 1070.1L460.7 1087.7" stroke-width="1.72" fill="none" />
<path d="M410.1 962.2L458.5 989.7L465.1 990.8" stroke-width="1.72" fill="none" />
<path d="M458.5 989.7L454.1 999.6L465.1 1021.7Q469 1040 469.5 1056.9L470.6 1089.9" stroke-width="1.72" fill="none" />
<path d="M461 995l5 12" stroke-width="1.49" fill="none" />
<path d="M447 1052l8 4l-1 8M440 1060l14 -6" stroke-width="1.49" fill="none" />
<path d="M404 1072Q418 1072 443 1060M410 1080L443 1064" stroke-width="1.49" fill="none" />
<path d="M410 1080Q408 1100 409 1118M414 1083Q412 1100 413 1120" stroke-width="1.49" fill="none" />
<path d="M388 1085q6 8 4 18l3 15M396 1092l6 -8" stroke-width="1.49" fill="none" />
<path d="M386.7 1091L388.9 1119.6L397.7 1128.4L413.1 1121.8L415.3 1086.6" stroke-width="1.61" fill="none" />
<path d="M418.9 1109.7Q420 1098 432.1 1086Q440 1081 449.7 1083.3L476.1 1094.3L491.6 1103.1L489.4 1114.1L492.7 1127.3L443.1 1147.2Q432 1142 426 1134Q420 1123 418.9 1109.7Z" stroke-width="1.72" fill="#fff" />
<path d="M437 1108Q433 1120 436 1134" stroke-width="1.49" fill="none" />
<path d="M456 1094l20 6" stroke-width="1.38" fill="none" />
<ellipse cx="446.4" cy="1099.8" rx="7.5" ry="8.3" transform="rotate(-20 446.4 1099.8)" stroke-width="1.72" fill="#fff"/>
<ellipse cx="447.4" cy="1098.3" rx="6.0" ry="6.6" transform="rotate(-20 447.4 1098.3)" stroke-width="1.38" fill="none"/>
<path d="M442.2 1101.5l2.5 3.3" stroke-width="1.84" fill="none" />
<ellipse cx="450.8" cy="1140.5" rx="7.2" ry="8.0" transform="rotate(-20 450.8 1140.5)" stroke-width="1.72" fill="#fff"/>
<ellipse cx="451.8" cy="1139.0" rx="5.8" ry="6.4" transform="rotate(-20 451.8 1139.0)" stroke-width="1.38" fill="none"/>
<path d="M446.8 1142.1l2.4 3.2" stroke-width="1.84" fill="none" />
<path d="M473 1079.3L558.9 1049.5Q556 1066 547.9 1081.5" stroke-width="1.72" fill="none" />
<path d="M492.8 1105.7H512.7Q526 1101 536.9 1092.5L554.5 1074.9" stroke-width="1.72" fill="none" />
<ellipse cx="524.8" cy="1084.8" rx="11.5" ry="19.5" transform="rotate(27 524.8 1084.8)" stroke-width="1.72" fill="#fff"/>
<ellipse cx="525.5" cy="1084.8" rx="8.5" ry="15.5" transform="rotate(27 525.5 1084.8)" stroke-width="1.49" fill="none"/>
<path d="M470.8 1088.1V1022L462 1011" stroke-width="1.72" fill="none" />
<path d="M440 1081.5L470.8 1090.3L490.6 1103.5" stroke-width="1.61" fill="none" />
<path d="M476.1 1043.7L538 1026.2" stroke-width="1.49" fill="none" stroke-dasharray="26 5"/>
<path d="M471.7 1056.9L489.4 1051.4L474 1051.5" stroke-width="1.49" fill="none" />
<path d="M545.7 1027.3L560 1033.9M563 1030l8 -7M560 1044l16 -2" stroke-width="1.49" fill="none" />
<path d="M478 1085l12 -8" stroke-width="1.38" fill="none" />
<path d="M554.5 907.3L532.5 919.4Q520 930 512.7 939.3L505 954.7L512.7 974.5Q520 982 528.1 985.5H545.7L561.1 963.5L569.9 943.7L571 926L572.1 917.2" stroke-width="1.72" fill="none" />
<path d="M547.9 917.2Q536 924 528.1 932.7Q520 943 517.1 952.5Q515 961 516 967.9Q519 976 525.9 981.1" stroke-width="1.49" fill="none" />
<ellipse cx="563.9" cy="923.3" rx="8.1" ry="9.0" transform="rotate(-20 563.9 923.3)" stroke-width="1.72" fill="#fff"/>
<ellipse cx="564.9" cy="921.8" rx="6.5" ry="7.2" transform="rotate(-20 564.9 921.8)" stroke-width="1.38" fill="none"/>
<path d="M559.4 925.1l2.7 3.6" stroke-width="1.84" fill="none" />
<ellipse cx="523.7" cy="958.0" rx="8.1" ry="9.0" transform="rotate(-20 523.7 958.0)" stroke-width="1.72" fill="#fff"/>
<ellipse cx="524.7" cy="956.5" rx="6.5" ry="7.2" transform="rotate(-20 524.7 956.5)" stroke-width="1.38" fill="none"/>
<path d="M519.2 959.8l2.7 3.6" stroke-width="1.84" fill="none" />
<ellipse cx="552.8" cy="977.3" rx="8.1" ry="9.0" transform="rotate(-20 552.8 977.3)" stroke-width="1.72" fill="#fff"/>
<ellipse cx="553.8" cy="975.8" rx="6.5" ry="7.2" transform="rotate(-20 553.8 975.8)" stroke-width="1.38" fill="none"/>
<path d="M548.3 979.1l2.7 3.6" stroke-width="1.84" fill="none" />
<path d="M569.9 952.5Q577 964 580.9 974.5Q587 990 589.7 1003.1L591.9 1011.9" stroke-width="1.72" fill="none" />
<path d="M563.3 963.5Q571 978 574.3 989.9Q579 1003 580.9 1014.1" stroke-width="1.72" fill="none" />
<path d="M534.7 987.7Q540 995 543.5 1003.1Q547 1012 549 1021.8" stroke-width="1.49" fill="none" />
<path d="M547.9 987.7Q552 996 554.5 1005.3Q557 1016 558.9 1029.5" stroke-width="1.49" fill="none" />
<path d="M580.9 1014.1L591.9 1010.8L597.4 1022.9V1036.1L591.9 1040.5L583.1 1042.7" stroke-width="1.72" fill="none" />
<path d="M582.5 1018.0L586.0 1037.0" stroke-width="2.99" />
<path d="M583.1 1041.8Q581 1052 576.5 1061.6Q571 1071 563.3 1077.1Q557 1081 550.1 1081.5" stroke-width="1.72" fill="none" />
<path d="M591 1043Q588 1054 583 1063Q577 1071 570 1075" stroke-width="1.49" fill="none" />
<path d="M528.1 985.5L521.5 996.5Q519 1003 517.1 1009.7Q512 1015 506 1017.4L493.9 1020.7L490.6 1018.5V998.7" stroke-width="1.72" fill="none" />
<path d="M491.6 960L493.8 993" stroke-width="1.72" fill="none" />
<path d="M507 949.9Q508 961 511.4 969.7" stroke-width="1.49" fill="none" />
<path d="M456.5 994.3L461 990l2 2M455 996Q462 1010 466 1024Q469 1040 470 1060" stroke-width="1.49" fill="none" />
<path d="M464 996l6 14M471 1014l7 -2.5l12 5.5" stroke-width="1.49" fill="none" />
<path d="M447.3 240.5L447.3 365.0" stroke-width="1.62" />
<path d="M447.3 240.5L447.3 256.0" stroke-width="2.97" />
<path d="M447.3 340.0L447.3 365.0" stroke-width="2.97" />
<path d="M474.0 104.6L474.0 363.7" stroke-width="1.62" />
<path d="M474.0 245.0L474.0 363.7" stroke-width="3.10" />
<path d="M522.1 203.0L522.1 374.6" stroke-width="1.62" />
<path d="M522.1 203.0L522.1 278.0" stroke-width="2.97" />
<path d="M522.1 350.0L522.1 374.6" stroke-width="2.97" />
<path d="M443.5 356h3M443.5 352v4" stroke-width="2.03" fill="none" />
</svg>
<div class="bd" style="left:0;top:0;width:1090px;height:1px;background:#808080"></div>
<div class="bd" style="left:0;top:1px;width:1090px;height:1px;background:#e4e4e4"></div>
<div class="bd" style="left:0;top:0;width:1px;height:1283px;background:#808080"></div>
<div class="bd" style="left:1px;top:1px;width:1px;height:1280px;background:#b4b4b4"></div>
<div class="bd" style="left:1088px;top:1px;width:1px;height:1281px;background:#7a7a7a"></div>
<div class="bd" style="left:1089px;top:1px;width:1px;height:1282px;background:#000"></div>
<div class="bd" style="left:0;top:1281px;width:1089px;height:2px;background:#d4d0c8"></div>
</body></html>
